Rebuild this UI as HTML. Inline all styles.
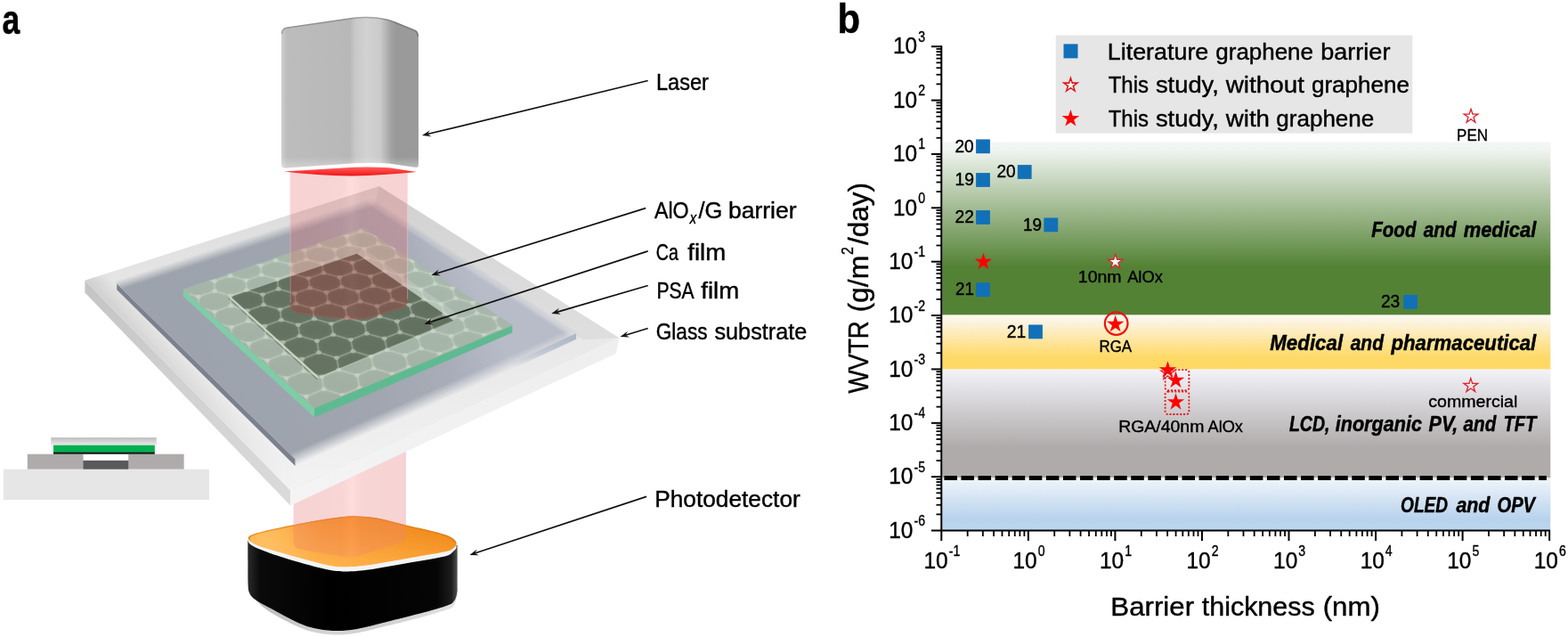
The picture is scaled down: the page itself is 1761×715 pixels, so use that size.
<!DOCTYPE html>
<html lang="en"><head><meta charset="utf-8"><title>Figure</title>
<style>
html,body{margin:0;padding:0;background:#fff;}
body{width:1761px;height:715px;overflow:hidden;}
svg{display:block;font-family:'Liberation Sans', 'DejaVu Sans', sans-serif;}
text{fill:#000;stroke:#000;stroke-width:0.4px;stroke-linejoin:round;}
text[font-weight=bold]{stroke-width:0.45px;}
</style></head><body>
<svg width="1761" height="715" viewBox="0 0 1761 715">
<defs>
<linearGradient id="laserG" gradientUnits="userSpaceOnUse" x1="316" y1="0" x2="470" y2="0">
<stop offset="0" stop-color="#cfcfcf"/><stop offset="0.04" stop-color="#bcbcbc"/><stop offset="0.5" stop-color="#b8b8b8"/>
<stop offset="0.54" stop-color="#c8c8c8"/><stop offset="0.62" stop-color="#d2d2d2"/><stop offset="0.72" stop-color="#cbcbcb"/>
<stop offset="0.80" stop-color="#a2a2a2"/><stop offset="0.84" stop-color="#999999"/><stop offset="1" stop-color="#9a9a9a"/></linearGradient>
<linearGradient id="beamG" gradientUnits="userSpaceOnUse" x1="326" y1="0" x2="458" y2="0">
<stop offset="0" stop-color="#e15a5a" stop-opacity="0.27"/><stop offset="0.44" stop-color="#e15a5a" stop-opacity="0.25"/>
<stop offset="0.52" stop-color="#ff7070" stop-opacity="0.24"/><stop offset="0.60" stop-color="#e15a5a" stop-opacity="0.25"/>
<stop offset="1" stop-color="#e15a5a" stop-opacity="0.27"/></linearGradient>
<linearGradient id="orangeG" gradientUnits="userSpaceOnUse" x1="405" y1="578" x2="392" y2="640">
<stop offset="0" stop-color="#f08c1e"/><stop offset="0.4" stop-color="#f89c30"/><stop offset="1" stop-color="#ffb44e"/></linearGradient>
<linearGradient id="blackG" gradientUnits="userSpaceOnUse" x1="278" y1="0" x2="514" y2="0">
<stop offset="0" stop-color="#2a2a2a"/><stop offset="0.06" stop-color="#0a0a0a"/><stop offset="0.4" stop-color="#000"/>
<stop offset="0.9" stop-color="#050505"/><stop offset="0.97" stop-color="#1c1c1c"/><stop offset="1" stop-color="#555"/></linearGradient>
<linearGradient id="coverG" x1="0" y1="0" x2="0" y2="1">
<stop offset="0" stop-color="#bdbdbd"/><stop offset="1" stop-color="#ebebeb"/></linearGradient>

<linearGradient id="silverG" gradientUnits="userSpaceOnUse" x1="278" y1="0" x2="514" y2="0"><stop offset="0" stop-color="#b8b8b8"/><stop offset="0.4" stop-color="#d6d6d6"/><stop offset="0.6" stop-color="#cfcfcf"/><stop offset="1" stop-color="#e2e2e2"/></linearGradient>
<radialGradient id="orangeHi" gradientUnits="userSpaceOnUse" cx="300" cy="607" r="60"><stop offset="0" stop-color="#ffc266" stop-opacity="0.9"/><stop offset="1" stop-color="#ffc266" stop-opacity="0"/></radialGradient>
<clipPath id="clipOrange"><path d="M279.6 606C277.93 603.88 278.55 602.48 282.5 600.6C286.45 598.72 292.6 597.13 303.3 594.7C314 592.27 333.68 588.35 346.7 586C359.72 583.65 372.37 581.7 381.4 580.6C390.43 579.5 393.68 579.22 400.9 579.4C408.12 579.58 415.68 580.05 424.7 581.7C433.72 583.35 444.52 586.78 455 589.3C465.48 591.82 479.18 594.58 487.6 596.8C496.02 599.02 501.33 600.48 505.5 602.6C509.67 604.72 512.02 607.35 512.6 609.5C513.18 611.65 511.37 613.82 509 615.5C506.63 617.18 507.4 617.65 498.4 619.6C489.4 621.55 469.45 624.7 455 627.2C440.55 629.7 422.53 633.1 411.7 634.6C400.87 636.1 397.22 636.23 390 636.2C382.78 636.17 379.23 636.62 368.4 634.4C357.57 632.18 337.65 626.42 325 622.9C312.35 619.38 300.07 616.12 292.5 613.3C284.93 610.48 281.27 608.12 279.6 606Z"/></clipPath>
<clipPath id="clipBeamLo"><path d="M329.6 480 L329.6 608 Q329.8 615 337 616.6 L384 624.6 Q394 626 404 623.4 L449 609.8 Q456 607.6 456 601 L456 480 Z"/></clipPath>
<linearGradient id="gSideL" gradientUnits="userSpaceOnUse" x1="95.4" y1="314.7" x2="326.2" y2="550.2"><stop offset="0" stop-color="#c4c4c4"/><stop offset="0.5" stop-color="#d1d1d1"/><stop offset="1" stop-color="#dadada"/></linearGradient>
<linearGradient id="gSideR" gradientUnits="userSpaceOnUse" x1="326.2" y1="550.2" x2="695.4" y2="379.3"><stop offset="0" stop-color="#f4f4f4"/><stop offset="1" stop-color="#eeeeee"/></linearGradient>
<linearGradient id="glassTop" gradientUnits="userSpaceOnUse" x1="0" y1="209" x2="0" y2="550.2"><stop offset="0" stop-color="#dadada"/><stop offset="0.3" stop-color="#e5e5e5"/><stop offset="0.7" stop-color="#ececec"/><stop offset="1" stop-color="#f3f3f3"/></linearGradient>
<filter id="blur5" x="-20%" y="-20%" width="140%" height="140%"><feGaussianBlur stdDeviation="4.5"/></filter>
<filter id="blur2" x="-20%" y="-20%" width="140%" height="140%"><feGaussianBlur stdDeviation="1.6"/></filter>
<filter id="blur1" x="-20%" y="-20%" width="140%" height="140%"><feGaussianBlur stdDeviation="0.7"/></filter>
<clipPath id="clipGlass"><polygon points="95.4,314.7 425.8,209 695.4,379.3 326.2,550.2"/></clipPath>
<linearGradient id="edgeShade" gradientUnits="userSpaceOnUse" x1="95.4" y1="314.7" x2="111.11" y2="299.3"><stop offset="0" stop-color="#000" stop-opacity="0.1"/><stop offset="1" stop-color="#000" stop-opacity="0"/></linearGradient>
<linearGradient id="edgeFade" gradientUnits="userSpaceOnUse" x1="95.4" y1="314.7" x2="326.2" y2="550.2"><stop offset="0" stop-color="#fff"/><stop offset="0.55" stop-color="#aaa"/><stop offset="1" stop-color="#000"/></linearGradient>
<mask id="mEdgeFade" maskUnits="userSpaceOnUse" x="0" y="0" width="940" height="715"><rect width="940" height="715" fill="url(#edgeFade)"/></mask>
<linearGradient id="psaG" gradientUnits="userSpaceOnUse" x1="231.35" y1="416.9" x2="531.4" y2="300.2"><stop offset="0" stop-color="#9da3ac"/><stop offset="0.5" stop-color="#a0a5af"/><stop offset="0.8" stop-color="#a8adb9"/><stop offset="1" stop-color="#b8bcc8"/></linearGradient>
<linearGradient id="mPsaLTg" gradientUnits="userSpaceOnUse" x1="272.91" y1="268.57" x2="276.33" y2="279.03"><stop offset="0" stop-color="#000"/><stop offset="0.5" stop-color="#808080"/><stop offset="1" stop-color="#fff"/></linearGradient>
<mask id="mPsaLT" maskUnits="userSpaceOnUse" x="0" y="0" width="940" height="715"><rect x="0" y="0" width="940" height="715" fill="url(#mPsaLTg)"/></mask>
<linearGradient id="mPsaTRg" gradientUnits="userSpaceOnUse" x1="533.32" y1="297.27" x2="527.84" y2="305.64"><stop offset="0" stop-color="#000"/><stop offset="0.5" stop-color="#808080"/><stop offset="1" stop-color="#fff"/></linearGradient>
<mask id="mPsaTR" maskUnits="userSpaceOnUse" x="0" y="0" width="940" height="715"><rect x="0" y="0" width="940" height="715" fill="url(#mPsaTRg)"/></mask>
<linearGradient id="mPsaBRg" gradientUnits="userSpaceOnUse" x1="491.6" y1="451.6" x2="485.5" y2="437.89"><stop offset="0" stop-color="#000"/><stop offset="0.5" stop-color="#808080"/><stop offset="1" stop-color="#fff"/></linearGradient>
<mask id="mPsaBR" maskUnits="userSpaceOnUse" x="0" y="0" width="940" height="715"><rect x="0" y="0" width="940" height="715" fill="url(#mPsaBRg)"/></mask>
<linearGradient id="psaRface" gradientUnits="userSpaceOnUse" x1="646" y1="375.2" x2="488.75" y2="445.2"><stop offset="0" stop-color="#a9b2c4" stop-opacity="0.9"/><stop offset="0.25" stop-color="#a9b2c4" stop-opacity="0.5"/><stop offset="0.45" stop-color="#a9b2c4" stop-opacity="0"/></linearGradient>
<linearGradient id="grnG" gradientUnits="userSpaceOnUse" x1="408" y1="255.6" x2="353.1" y2="457.2"><stop offset="0" stop-color="#a8b9ac"/><stop offset="0.5" stop-color="#a5b5a8"/><stop offset="1" stop-color="#a1aea2"/></linearGradient>
<clipPath id="clipGrn"><polygon points="205.9,324.6 408,255.6 575.4,364.4 353.1,457.2"/></clipPath>
<clipPath id="clipCa"><polygon points="258.2,333.6 400.9,284.8 510,360.2 357.6,423.4"/></clipPath>
<linearGradient id="caG" gradientUnits="userSpaceOnUse" x1="400.9" y1="284.8" x2="357.6" y2="423.4"><stop offset="0" stop-color="#5f6f5e"/><stop offset="1" stop-color="#667362"/></linearGradient>
<clipPath id="clipBeamUp"><path d="M325.6 193 L325.6 340 Q325.8 349 335.4 350.8 L375 356 Q395 358.6 415 356.2 L451 344.6 Q458.1 342 458.1 335 L458.1 193 Z"/></clipPath>
<linearGradient id="redG" gradientUnits="userSpaceOnUse" x1="0" y1="187.5" x2="0" y2="197.6"><stop offset="0" stop-color="#ff6060"/><stop offset="0.45" stop-color="#fb3c3c"/><stop offset="1" stop-color="#ec1414"/></linearGradient>
<linearGradient id="laserBot" gradientUnits="userSpaceOnUse" x1="0" y1="176" x2="0" y2="189"><stop offset="0" stop-color="#fff" stop-opacity="0"/><stop offset="1" stop-color="#fff" stop-opacity="0.35"/></linearGradient>
<linearGradient id="laserTop" gradientUnits="userSpaceOnUse" x1="0" y1="18" x2="0" y2="40"><stop offset="0" stop-color="#000" stop-opacity="0.14"/><stop offset="0.35" stop-color="#000" stop-opacity="0.03"/><stop offset="1" stop-color="#000" stop-opacity="0"/></linearGradient>
<clipPath id="clipLaser"><path d="M316 37 Q316 31.8 322 30.6 L398 19.6 Q410 18 424 19.6 Q436 21.2 444 24.6 L466 33.4 Q470 35.2 470 40 L470 185 L316 185Z"/></clipPath>
<linearGradient id="gGreen" x1="0" y1="0" x2="0" y2="1">
<stop offset="0" stop-color="#f2f6f6"/><stop offset="0.04" stop-color="#f1f5f1"/><stop offset="0.72" stop-color="#548235"/><stop offset="1" stop-color="#548235"/></linearGradient>
<linearGradient id="gYellow" x1="0" y1="0" x2="0" y2="1">
<stop offset="0" stop-color="#fbf8f1"/><stop offset="0.12" stop-color="#fcf4e2"/><stop offset="0.78" stop-color="#ffd966"/><stop offset="1" stop-color="#ffd966"/></linearGradient>
<linearGradient id="gGrey" x1="0" y1="0" x2="0" y2="1">
<stop offset="0" stop-color="#f3f3f8"/><stop offset="0.72" stop-color="#afabab"/><stop offset="1" stop-color="#afabab"/></linearGradient>
<linearGradient id="gBlue" x1="0" y1="0" x2="0" y2="1">
<stop offset="0" stop-color="#f0f5fb"/><stop offset="0.8" stop-color="#b7d2ec"/><stop offset="1" stop-color="#bdd7ee"/></linearGradient>
</defs>
<rect width="1761" height="715" fill="#fff"/>
<g id="panel-a">
<text x="2.42" y="37.5" font-size="45.5" font-weight="bold" font-style="normal" textLength="19.74" lengthAdjust="spacingAndGlyphs" >a</text>
<g id="photodetector">
<path d="M278.4 607C278.42 610.83 278.47 622 278.5 630C278.53 638 278.35 649.17 278.6 655C278.85 660.83 278.77 662.08 280 665C281.23 667.92 282.12 668.82 286 672.5C289.88 676.18 294.98 681.83 303.3 687.1C311.62 692.37 326.87 700.18 335.9 704.1C344.93 708.02 350.28 709.18 357.5 710.6C364.72 712.02 371.97 712.6 379.2 712.6C386.43 712.6 391.87 712.23 400.9 710.6C409.93 708.97 420.77 705.92 433.4 702.8C446.03 699.68 465.15 695.02 476.7 691.9C488.25 688.78 497.07 686.32 502.7 684.1C508.33 681.88 508.72 681.78 510.5 678.6C512.28 675.42 512.88 668.93 513.4 665C513.92 661.07 513.57 660.83 513.6 655C513.63 649.17 513.6 637.17 513.6 630C513.6 622.83 513.6 615 513.6 612Z" fill="url(#silverG)"/>
<path d="M278.4 607C278.42 610.83 278.47 622 278.5 630C278.53 638 278.35 649.17 278.6 655C278.85 660.83 278.77 662.08 280 665C281.23 667.92 282.12 669.58 286 672.5C289.88 675.42 294.98 678 303.3 682.5C311.62 687 326.87 695.58 335.9 699.5C344.93 703.42 350.28 704.58 357.5 706C364.72 707.42 371.97 708 379.2 708C386.43 708 391.87 707.63 400.9 706C409.93 704.37 420.77 701.32 433.4 698.2C446.03 695.08 465.15 690.42 476.7 687.3C488.25 684.18 497.07 681.72 502.7 679.5C508.33 677.28 508.72 676.42 510.5 674C512.28 671.58 512.88 668.17 513.4 665C513.92 661.83 513.57 660.83 513.6 655C513.63 649.17 513.6 637.17 513.6 630C513.6 622.83 513.6 615 513.6 612Z" fill="url(#blackG)"/>
<path d="M279.6 609.5C277.93 607.38 278.55 605.7 282.5 604.1C286.45 602.5 292.6 602.05 303.3 599.9C314 597.75 333.68 593.55 346.7 591.2C359.72 588.85 372.37 586.9 381.4 585.8C390.43 584.7 393.68 584.42 400.9 584.6C408.12 584.78 415.68 585.25 424.7 586.9C433.72 588.55 444.52 591.98 455 594.5C465.48 597.02 479.18 600.07 487.6 602C496.02 603.93 501.33 604.27 505.5 606.1C509.67 607.93 512.02 610.85 512.6 613C513.18 615.15 511.37 617.03 509 619C506.63 620.97 507.4 622.57 498.4 624.8C489.4 627.03 469.45 629.9 455 632.4C440.55 634.9 422.53 638.3 411.7 639.8C400.87 641.3 397.22 641.43 390 641.4C382.78 641.37 379.23 641.82 368.4 639.6C357.57 637.38 337.65 631.9 325 628.1C312.35 624.3 300.07 619.9 292.5 616.8C284.93 613.7 281.27 611.62 279.6 609.5Z" fill="#f4f4f4"/>
<path d="M279.6 606C277.93 603.88 278.55 602.48 282.5 600.6C286.45 598.72 292.6 597.13 303.3 594.7C314 592.27 333.68 588.35 346.7 586C359.72 583.65 372.37 581.7 381.4 580.6C390.43 579.5 393.68 579.22 400.9 579.4C408.12 579.58 415.68 580.05 424.7 581.7C433.72 583.35 444.52 586.78 455 589.3C465.48 591.82 479.18 594.58 487.6 596.8C496.02 599.02 501.33 600.48 505.5 602.6C509.67 604.72 512.02 607.35 512.6 609.5C513.18 611.65 511.37 613.82 509 615.5C506.63 617.18 507.4 617.65 498.4 619.6C489.4 621.55 469.45 624.7 455 627.2C440.55 629.7 422.53 633.1 411.7 634.6C400.87 636.1 397.22 636.23 390 636.2C382.78 636.17 379.23 636.62 368.4 634.4C357.57 632.18 337.65 626.42 325 622.9C312.35 619.38 300.07 616.12 292.5 613.3C284.93 610.48 281.27 608.12 279.6 606Z" fill="url(#orangeG)"/>
<g clip-path="url(#clipOrange)"><rect x="270" y="570" width="250" height="80" fill="url(#orangeHi)"/></g>
<g clip-path="url(#clipOrange)"><path d="M279.6 606C280.08 605.1 278.55 602.48 282.5 600.6C286.45 598.72 292.6 597.13 303.3 594.7C314 592.27 333.68 588.35 346.7 586C359.72 583.65 372.37 581.7 381.4 580.6C390.43 579.5 393.68 579.22 400.9 579.4C408.12 579.58 415.68 580.05 424.7 581.7C433.72 583.35 444.52 586.78 455 589.3C465.48 591.82 479.18 594.58 487.6 596.8C496.02 599.02 501.33 600.48 505.5 602.6C509.67 604.72 511.42 608.35 512.6 609.5" fill="none" stroke="#d96a08" stroke-opacity="0.55" stroke-width="2.4" filter="url(#blur1)"/></g>
</g>
<path d="M329.6 480 L329.6 608 Q329.8 615 337 616.6 L384 624.6 Q394 626 404 623.4 L449 609.8 Q456 607.6 456 601 L456 480 Z" fill="url(#beamG)"/>
<g clip-path="url(#clipBeamLo)"><path d="M279.6 606C277.93 603.88 278.55 602.48 282.5 600.6C286.45 598.72 292.6 597.13 303.3 594.7C314 592.27 333.68 588.35 346.7 586C359.72 583.65 372.37 581.7 381.4 580.6C390.43 579.5 393.68 579.22 400.9 579.4C408.12 579.58 415.68 580.05 424.7 581.7C433.72 583.35 444.52 586.78 455 589.3C465.48 591.82 479.18 594.58 487.6 596.8C496.02 599.02 501.33 600.48 505.5 602.6C509.67 604.72 512.02 607.35 512.6 609.5C513.18 611.65 511.37 613.82 509 615.5C506.63 617.18 507.4 617.65 498.4 619.6C489.4 621.55 469.45 624.7 455 627.2C440.55 629.7 422.53 633.1 411.7 634.6C400.87 636.1 397.22 636.23 390 636.2C382.78 636.17 379.23 636.62 368.4 634.4C357.57 632.18 337.65 626.42 325 622.9C312.35 619.38 300.07 616.12 292.5 613.3C284.93 610.48 281.27 608.12 279.6 606Z" fill="#ffb866" fill-opacity="0.22"/></g>
<polygon points="95.4,314.7 326.2,550.2 326.2,567.4 95.4,328.5" fill="url(#gSideL)"/>
<polygon points="326.2,550.2 695.4,379.3 691.9,396.8 326.2,567.4" fill="url(#gSideR)"/>
<polygon points="95.4,314.7 425.8,209 695.4,379.3 326.2,550.2" fill="url(#glassTop)"/>
<polygon points="425.8,209 695.4,379.3 655.4,381.3 419.8,231" fill="#000" fill-opacity="0.045"/>
<g clip-path="url(#clipGlass)" mask="url(#mEdgeFade)"><polygon points="95.4,314.7 326.2,550.2 343.34,533.4 112.54,297.9" fill="url(#edgeShade)"/></g>
<polygon points="131.2,318.6 331.5,515.2 331.5,522.9 131.2,325.2" fill="#7d818d"/>
<g clip-path="url(#clipGlass)"><g mask="url(#mPsaLT)"><g mask="url(#mPsaTR)"><g mask="url(#mPsaBR)"><polygon points="131.2,318.6 101.2,288.6 416.8,185.2 686,365.2 676,415.2 331.5,555.2 331.5,515.2" fill="url(#psaG)"/></g></g></g></g>
<polygon points="647,374.2 647,380.7 488.75,454.2 488.75,447.2" fill="url(#psaRface)"/>
<polygon points="205.9,324.6 353.1,457.2 353.1,468.5 205.6,332.6" fill="#7fcca8"/>
<polygon points="353.1,457.2 575.4,364.4 575.4,373.4 353.1,468.5" fill="#5fba91"/>
<polygon points="205.9,324.6 408,255.6 575.4,364.4 575.4,365.4 353.1,458.2 205.9,325.6" fill="url(#grnG)" filter="url(#blur1)"/>
<polygon points="258.2,333.6 400.9,284.8 510,360.2 357.6,423.4" fill="url(#caG)"/>
<path d="M256.6 334.8 L356.4 425.8" stroke="#4f5f4e" stroke-opacity="0.5" stroke-width="1.2" fill="none"/>
<path d="M258.2 333.6 L357.6 424" stroke="#cdd9c7" stroke-opacity="0.9" stroke-width="2.0" fill="none"/>
<path d="M357.6 424 L510 360.2" stroke="#b4c2b0" stroke-opacity="0.55" stroke-width="1.8" fill="none"/>
<polygon points="400.9,284.8 510,360.2 514.5,352.7 407.4,278.3" fill="#e8efe6" opacity="0.22"/>
<g clip-path="url(#clipGrn)">
<path d="M61.63 321.4L59.43 332.65M59.43 332.65L76.44 337.8M59.43 332.65L39.43 339.02M76.44 337.8L74.41 349.5M74.41 349.5L91.85 354.86M74.41 349.5L54.12 356.14M91.85 354.86L89.99 367.04M89.99 367.04L107.88 372.62M89.99 367.04L69.43 373.97M107.88 372.62L106.23 385.32M106.23 385.32L124.6 391.12M106.23 385.32L85.37 392.55M124.6 391.12L123.16 404.37M123.16 404.37L142.02 410.42M123.16 404.37L102 411.92M142.02 410.42L140.82 424.24M140.82 424.24L160.21 430.56M140.82 424.24L119.36 432.14M160.21 430.56L159.27 445.01M159.27 445.01L179.22 451.6M159.27 445.01L137.49 453.27M179.22 451.6L178.55 466.71M178.55 466.71L199.09 473.6M178.55 466.71L156.46 475.37M199.09 473.6L198.74 489.42M198.74 489.42L219.89 496.63M198.74 489.42L176.32 498.51M219.89 496.63L219.88 513.22M219.88 513.22L241.69 520.77M219.88 513.22L197.13 522.76M241.69 520.77L242.05 538.18M242.05 538.18L264.57 546.09M242.05 538.18L218.97 548.2M264.57 546.09L265.34 564.38M265.34 564.38L288.59 572.69M265.34 564.38L241.92 574.93M288.59 572.69L289.81 591.93M289.81 591.93L313.85 600.66M289.81 591.93L266.05 603.05M313.85 600.66L315.58 620.92M315.58 620.92L340.46 630.12M315.58 620.92L291.46 632.66M82.89 304.53L81.03 315.31M81.03 315.31L97.79 320.25M81.03 315.31L61.63 321.4M97.79 320.25L96.1 331.45M96.1 331.45L113.28 336.59M96.1 331.45L76.44 337.8M113.28 336.59L111.77 348.24M111.77 348.24L129.39 353.58M111.77 348.24L91.85 354.86M129.39 353.58L128.08 365.72M128.08 365.72L146.16 371.27M128.08 365.72L107.88 372.62M146.16 371.27L145.07 383.92M145.07 383.92L163.63 389.7M145.07 383.92L124.6 391.12M163.63 389.7L162.78 402.89M162.78 402.89L181.85 408.92M162.78 402.89L142.02 410.42M181.85 408.92L181.26 422.69M181.26 422.69L200.86 428.98M181.26 422.69L160.21 430.56M200.86 428.98L200.56 443.36M200.56 443.36L220.73 449.93M200.56 443.36L179.22 451.6M220.73 449.93L220.73 464.97M220.73 464.97L241.49 471.83M220.73 464.97L199.09 473.6M241.49 471.83L241.83 487.59M241.83 487.59L263.23 494.76M241.83 487.59L219.89 496.63M263.23 494.76L263.94 511.27M263.94 511.27L286.01 518.79M263.94 511.27L241.69 520.77M286.01 518.79L287.13 536.11M287.13 536.11L309.9 543.99M287.13 536.11L264.57 546.09M309.9 543.99L311.46 562.19M311.46 562.19L334.99 570.46M311.46 562.19L288.59 572.69M334.99 570.46L337.05 589.6M337.05 589.6L361.38 598.29M337.05 589.6L313.85 600.66M118.25 303.44L116.87 314.17M116.87 314.17L133.8 319.1M116.87 314.17L97.79 320.25M133.8 319.1L132.6 330.26M132.6 330.26L149.96 335.38M132.6 330.26L113.28 336.59M149.96 335.38L148.97 346.99M148.97 346.99L166.76 352.31M148.97 346.99L129.39 353.58M166.76 352.31L165.99 364.4M165.99 364.4L184.26 369.93M165.99 364.4L146.16 371.27M184.26 369.93L183.73 382.53M183.73 382.53L202.48 388.29M183.73 382.53L163.63 389.7M202.48 388.29L202.21 401.43M202.21 401.43L221.48 407.43M202.21 401.43L181.85 408.92M221.48 407.43L221.5 421.14M221.5 421.14L241.31 427.4M221.5 421.14L200.86 428.98M241.31 427.4L241.63 441.73M241.63 441.73L262.02 448.27M241.63 441.73L220.73 449.93M262.02 448.27L262.68 463.25M262.68 463.25L283.67 470.08M262.68 463.25L241.49 471.83M283.67 470.08L284.7 485.76M284.7 485.76L306.33 492.9M284.7 485.76L263.23 494.76M306.33 492.9L307.76 509.34M307.76 509.34L330.08 516.82M307.76 509.34L286.01 518.79M330.08 516.82L331.94 534.06M331.94 534.06L354.98 541.9M331.94 534.06L309.9 543.99M354.98 541.9L357.33 560.01M357.33 560.01L381.13 568.24M357.33 560.01L334.99 570.46M381.13 568.24L384 587.28M384 587.28L408.62 595.93M384 587.28L361.38 598.29M137.86 287.32L136.76 297.62M136.76 297.62L153.45 302.35M136.76 297.62L118.25 303.44M153.45 302.35L152.55 313.05M152.55 313.05L169.64 317.96M152.55 313.05L133.8 319.1M169.64 317.96L168.94 329.08M168.94 329.08L186.47 334.18M168.94 329.08L149.96 335.38M186.47 334.18L185.99 345.75M185.99 345.75L203.96 351.05M185.99 345.75L166.76 352.31M203.96 351.05L203.73 363.09M203.73 363.09L222.18 368.6M203.73 363.09L184.26 369.93M222.18 368.6L222.2 381.15M222.2 381.15L241.15 386.89M222.2 381.15L202.48 388.29M241.15 386.89L241.45 399.97M241.45 399.97L260.92 405.95M241.45 399.97L221.48 407.43M260.92 405.95L261.53 419.61M261.53 419.61L281.55 425.84M261.53 419.61L241.31 427.4M281.55 425.84L282.5 440.11M282.5 440.11L303.1 446.61M282.5 440.11L262.02 448.27M303.1 446.61L304.41 461.53M304.41 461.53L325.63 468.33M304.41 461.53L283.67 470.08M325.63 468.33L327.34 483.94M327.34 483.94L349.21 491.05M327.34 483.94L306.33 492.9M349.21 491.05L351.34 507.41M351.34 507.41L373.9 514.86M351.34 507.41L330.08 516.82M373.9 514.86L376.51 532.02M376.51 532.02L399.8 539.83M376.51 532.02L354.98 541.9M399.8 539.83L402.93 557.85M402.93 557.85L426.99 566.04M402.93 557.85L381.13 568.24M172.29 286.29L171.66 296.55M171.66 296.55L188.5 301.27M171.66 296.55L153.45 302.35M188.5 301.27L188.07 311.93M188.07 311.93L205.33 316.82M188.07 311.93L169.64 317.96M205.33 316.82L205.12 327.9M205.12 327.9L222.81 332.98M205.12 327.9L186.47 334.18M222.81 332.98L222.84 344.51M222.84 344.51L240.99 349.79M222.84 344.51L203.96 351.05M240.99 349.79L241.28 361.78M241.28 361.78L259.91 367.27M241.28 361.78L222.18 368.6M259.91 367.27L260.48 379.77M260.48 379.77L279.62 385.49M260.48 379.77L241.15 386.89M279.62 385.49L280.5 398.52M280.5 398.52L300.16 404.47M280.5 398.52L260.92 405.95M300.16 404.47L301.37 418.07M301.37 418.07L321.6 424.28M301.37 418.07L281.55 425.84M321.6 424.28L323.16 438.49M323.16 438.49L343.98 444.97M323.16 438.49L303.1 446.61M343.98 444.97L345.93 459.82M345.93 459.82L367.37 466.59M345.93 459.82L325.63 468.33M367.37 466.59L369.75 482.14M369.75 482.14L391.85 489.22M369.75 482.14L349.21 491.05M391.85 489.22L394.69 505.5M394.69 505.5L417.49 512.91M394.69 505.5L373.9 514.86M417.49 512.91L420.83 529.99M420.83 529.99L444.37 537.76M420.83 529.99L399.8 539.83M444.37 537.76L448.26 555.69M448.26 555.69L472.6 563.84M448.26 555.69L426.99 566.04M190.38 270.88L189.98 280.73M189.98 280.73L206.58 285.26M189.98 280.73L172.29 286.29M206.58 285.26L206.4 295.49M206.4 295.49L223.4 300.19M206.4 295.49L188.5 301.27M223.4 300.19L223.43 310.81M223.43 310.81L240.85 315.69M223.43 310.81L205.33 316.82M240.85 315.69L241.13 326.73M241.13 326.73L258.99 331.79M241.13 326.73L222.81 332.98M258.99 331.79L259.53 343.27M259.53 343.27L277.85 348.53M259.53 343.27L240.99 349.79M277.85 348.53L278.66 360.48M278.66 360.48L297.48 365.95M278.66 360.48L259.91 367.27M297.48 365.95L298.59 378.4M298.59 378.4L317.91 384.1M298.59 378.4L279.62 385.49M317.91 384.1L319.35 397.08M319.35 397.08L339.22 403.01M319.35 397.08L300.16 404.47M339.22 403.01L341.01 416.55M341.01 416.55L361.44 422.74M341.01 416.55L321.6 424.28M361.44 422.74L363.61 436.88M363.61 436.88L384.64 443.33M363.61 436.88L343.98 444.97M384.64 443.33L387.23 458.12M387.23 458.12L408.89 464.86M387.23 458.12L367.37 466.59M408.89 464.86L411.93 480.34M411.93 480.34L434.27 487.39M411.93 480.34L391.85 489.22M434.27 487.39L437.8 503.6M437.8 503.6L460.84 510.97M437.8 503.6L417.49 512.91M460.84 510.97L464.9 527.97M464.9 527.97L488.7 535.71M464.9 527.97L444.37 537.76M223.94 269.9L223.98 279.72M223.98 279.72L240.72 284.24M223.98 279.72L206.58 285.26M240.72 284.24L240.99 294.43M240.99 294.43L258.14 299.12M240.99 294.43L223.4 300.19M258.14 299.12L258.64 309.7M258.64 309.7L276.22 314.56M258.64 309.7L240.85 315.69M276.22 314.56L276.98 325.56M276.98 325.56L295.01 330.6M276.98 325.56L258.99 331.79M295.01 330.6L296.04 342.04M296.04 342.04L314.54 347.28M296.04 342.04L277.85 348.53M314.54 347.28L315.87 359.19M315.87 359.19L334.86 364.64M315.87 359.19L297.48 365.95M334.86 364.64L336.51 377.04M336.51 377.04L356.02 382.71M336.51 377.04L317.91 384.1M356.02 382.71L358.02 395.64M358.02 395.64L378.08 401.55M358.02 395.64L339.22 403.01M378.08 401.55L380.45 415.04M380.45 415.04L401.08 421.19M380.45 415.04L361.44 422.74M401.08 421.19L403.86 435.28M403.86 435.28L425.1 441.71M403.86 435.28L384.64 443.33M425.1 441.71L428.32 456.43M428.32 456.43L450.2 463.14M428.32 456.43L408.89 464.86M450.2 463.14L453.9 478.55M453.9 478.55L476.46 485.57M453.9 478.55L434.27 487.39M476.46 485.57L480.67 501.7M480.67 501.7L503.95 509.05M480.67 501.7L460.84 510.97M503.95 509.05L508.73 525.97M508.73 525.97L532.77 533.66M508.73 525.97L488.7 535.71M240.61 255.15L240.86 264.59M240.86 264.59L257.36 268.93M240.86 264.59L223.94 269.9M257.36 268.93L257.83 278.72M257.83 278.72L274.72 283.22M257.83 278.72L240.72 284.24M274.72 283.22L275.43 293.38M275.43 293.38L292.74 298.05M275.43 293.38L258.14 299.12M292.74 298.05L293.7 308.59M293.7 308.59L311.44 313.44M293.7 308.59L276.22 314.56M311.44 313.44L312.67 324.4M312.67 324.4L330.87 329.42M312.67 324.4L295.01 330.6M330.87 329.42L332.39 340.82M332.39 340.82L351.06 346.04M332.39 340.82L314.54 347.28M351.06 346.04L352.9 357.9M352.9 357.9L372.07 363.33M352.9 357.9L334.86 364.64M372.07 363.33L374.26 375.68M374.26 375.68L393.95 381.33M374.26 375.68L356.02 382.71M393.95 381.33L396.5 394.21M396.5 394.21L416.75 400.09M396.5 394.21L378.08 401.55M416.75 400.09L419.7 413.53M419.7 413.53L440.53 419.66M419.7 413.53L401.08 421.19M440.53 419.66L443.91 433.69M443.91 433.69L465.35 440.09M443.91 433.69L425.1 441.71M465.35 440.09L469.19 454.75M469.19 454.75L491.29 461.43M469.19 454.75L450.2 463.14M491.29 461.43L495.64 476.77M495.64 476.77L518.42 483.76M495.64 476.77L476.46 485.57M518.42 483.76L523.32 499.82M523.32 499.82L546.83 507.13M523.32 499.82L503.95 509.05M273.33 254.23L274 263.64M274 263.64L290.64 267.97M274 263.64L257.36 268.93M290.64 267.97L291.54 277.72M291.54 277.72L308.58 282.21M291.54 277.72L274.72 283.22M308.58 282.21L309.73 292.33M309.73 292.33L327.19 296.98M309.73 292.33L292.74 298.05M327.19 296.98L328.6 307.49M328.6 307.49L346.5 312.32M328.6 307.49L311.44 313.44M346.5 312.32L348.21 323.24M348.21 323.24L366.56 328.25M348.21 323.24L330.87 329.42M366.56 328.25L368.58 339.6M368.58 339.6L387.42 344.8M368.58 339.6L351.06 346.04M387.42 344.8L389.77 356.62M389.77 356.62L409.11 362.03M389.77 356.62L372.07 363.33M409.11 362.03L411.82 374.33M411.82 374.33L431.7 379.96M411.82 374.33L393.95 381.33M431.7 379.96L434.8 392.79M434.8 392.79L455.23 398.65M434.8 392.79L416.75 400.09M455.23 398.65L458.75 412.03M458.75 412.03L479.78 418.14M458.75 412.03L440.53 419.66M479.78 418.14L483.75 432.1M483.75 432.1L505.4 438.48M483.75 432.1L465.35 440.09M505.4 438.48L509.86 453.07M509.86 453.07L532.17 459.73M509.86 453.07L491.29 461.43M532.17 459.73L537.16 475M537.16 475L560.16 481.96M537.16 475L518.42 483.76M560.16 481.96L565.73 497.95M565.73 497.95L589.47 505.23M565.73 497.95L546.83 507.13M288.69 240.09L289.53 249.14M289.53 249.14L305.93 253.31M289.53 249.14L273.33 254.23M305.93 253.31L307 262.69M307 262.69L323.78 267.01M307 262.69L290.64 267.97M323.78 267.01L325.1 276.73M325.1 276.73L342.29 281.2M325.1 276.73L308.58 282.21M342.29 281.2L343.87 291.29M343.87 291.29L361.48 295.92M343.87 291.29L327.19 296.98M361.48 295.92L363.35 306.4M363.35 306.4L381.41 311.2M363.35 306.4L346.5 312.32M381.41 311.2L383.58 322.08M383.58 322.08L402.1 327.08M383.58 322.08L366.56 328.25M402.1 327.08L404.6 338.39M404.6 338.39L423.61 343.57M404.6 338.39L387.42 344.8M423.61 343.57L426.46 355.34M426.46 355.34L445.98 360.73M426.46 355.34L409.11 362.03M445.98 360.73L449.21 372.99M449.21 372.99L469.27 378.6M449.21 372.99L431.7 379.96M469.27 378.6L472.91 391.37M472.91 391.37L493.53 397.21M472.91 391.37L455.23 398.65M493.53 397.21L497.62 410.53M497.62 410.53L518.84 416.62M497.62 410.53L479.78 418.14M518.84 416.62L523.39 430.53M523.39 430.53L545.25 436.87M523.39 430.53L505.4 438.48M545.25 436.87L550.32 451.41M550.32 451.41L572.84 458.04M550.32 451.41L532.17 459.73M572.84 458.04L578.46 473.24M578.46 473.24L601.69 480.17M578.46 473.24L560.16 481.96M320.63 239.22L321.86 248.24M321.86 248.24L338.39 252.4M321.86 248.24L305.93 253.31M338.39 252.4L339.87 261.74M339.87 261.74L356.79 266.05M339.87 261.74L323.78 267.01M356.79 266.05L358.53 275.74M358.53 275.74L375.86 280.19M358.53 275.74L342.29 281.2M375.86 280.19L377.88 290.25M377.88 290.25L395.64 294.87M377.88 290.25L361.48 295.92M395.64 294.87L397.95 305.3M397.95 305.3L416.16 310.1M397.95 305.3L381.41 311.2M416.16 310.1L418.8 320.94M418.8 320.94L437.48 325.91M418.8 320.94L402.1 327.08M437.48 325.91L440.46 337.18M440.46 337.18L459.63 342.35M440.46 337.18L423.61 343.57M459.63 342.35L462.98 354.07M462.98 354.07L482.67 359.44M462.98 354.07L445.98 360.73M482.67 359.44L486.42 371.65M486.42 371.65L506.66 377.24M486.42 371.65L469.27 378.6M506.66 377.24L510.84 389.96M510.84 389.96L531.65 395.78M510.84 389.96L493.53 397.21M531.65 395.78L536.29 409.05M536.29 409.05L557.7 415.11M536.29 409.05L518.84 416.62M557.7 415.11L562.84 428.96M562.84 428.96L584.89 435.28M562.84 428.96L545.25 436.87M584.89 435.28L590.57 449.75M590.57 449.75L613.29 456.35M590.57 449.75L572.84 458.04M613.29 456.35L619.55 471.49M619.55 471.49L642.99 478.38M619.55 471.49L601.69 480.17M334.78 225.66L336.15 234.35M336.15 234.35L352.44 238.35M336.15 234.35L320.63 239.22M352.44 238.35L354.06 247.34M354.06 247.34L370.72 251.49M354.06 247.34L338.39 252.4M370.72 251.49L372.6 260.8M372.6 260.8L389.66 265.09M372.6 260.8L356.79 266.05M389.66 265.09L391.81 274.75M391.81 274.75L409.29 279.19M391.81 274.75L375.86 280.19M409.29 279.19L411.73 289.21M411.73 289.21L429.64 293.82M411.73 289.21L395.64 294.87M429.64 293.82L432.4 304.22M432.4 304.22L450.76 308.99M432.4 304.22L416.16 310.1M450.76 308.99L453.86 319.79M453.86 319.79L472.7 324.75M453.86 319.79L437.48 325.91M472.7 324.75L476.16 335.98M476.16 335.98L495.49 341.13M476.16 335.98L459.63 342.35M495.49 341.13L499.34 352.81M499.34 352.81L519.2 358.16M499.34 352.81L482.67 359.44M519.2 358.16L523.46 370.32M523.46 370.32L543.87 375.89M523.46 370.32L506.66 377.24M543.87 375.89L548.59 388.56M548.59 388.56L569.58 394.35M548.59 388.56L531.65 395.78M569.58 394.35L574.77 407.57M574.77 407.57L596.37 413.6M574.77 407.57L557.7 415.11M596.37 413.6L602.09 427.4M602.09 427.4L624.34 433.69M602.09 427.4L584.89 435.28M624.34 433.69L630.61 448.1M630.61 448.1L653.54 454.68M630.61 448.1L613.29 456.35M365.96 224.84L367.71 233.49M367.71 233.49L384.12 237.49M367.71 233.49L352.44 238.35M384.12 237.49L386.13 246.45M386.13 246.45L402.92 250.58M386.13 246.45L370.72 251.49M402.92 250.58L405.2 259.87M405.2 259.87L422.4 264.14M405.2 259.87L389.66 265.09M422.4 264.14L424.96 273.77M424.96 273.77L442.58 278.2M424.96 273.77L409.29 279.19M442.58 278.2L445.45 288.18M445.45 288.18L463.5 292.77M445.45 288.18L429.64 293.82M463.5 292.77L466.7 303.13M466.7 303.13L485.21 307.89M466.7 303.13L450.76 308.99M485.21 307.89L488.77 318.66M488.77 318.66L507.76 323.59M488.77 318.66L472.7 324.75M507.76 323.59L511.69 334.78M511.69 334.78L531.19 339.91M511.69 334.78L495.49 341.13M531.19 339.91L535.53 351.55M535.53 351.55L555.56 356.88M535.53 351.55L519.2 358.16M555.56 356.88L560.33 369M560.33 369L580.91 374.54M560.33 369L543.87 375.89M580.91 374.54L586.15 387.16M586.15 387.16L607.32 392.93M586.15 387.16L569.58 394.35M607.32 392.93L613.07 406.1M613.07 406.1L634.86 412.11M613.07 406.1L596.37 413.6M634.86 412.11L641.14 425.85M641.14 425.85L663.58 432.11M641.14 425.85L624.34 433.69M663.58 432.11L670.45 446.46M670.45 446.46L693.58 453.01M670.45 446.46L653.54 454.68M378.97 211.82L380.85 220.16M380.85 220.16L397.02 224.02M380.85 220.16L365.96 224.84M397.02 224.02L399.14 232.65M399.14 232.65L415.68 236.63M399.14 232.65L384.12 237.49M415.68 236.63L418.07 245.56M418.07 245.56L435 249.68M418.07 245.56L402.92 250.58M435 249.68L437.66 258.94M437.66 258.94L455 263.2M437.66 258.94L422.4 264.14M455 263.2L457.97 272.79M457.97 272.79L475.73 277.21M457.97 272.79L442.58 278.2M475.73 277.21L479.02 287.16M479.02 287.16L497.22 291.73M479.02 287.16L463.5 292.77M497.22 291.73L500.85 302.06M500.85 302.06L519.52 306.8M500.85 302.06L485.21 307.89M519.52 306.8L523.52 317.52M523.52 317.52L542.67 322.44M523.52 317.52L507.76 323.59M542.67 322.44L547.07 333.59M547.07 333.59L566.73 338.7M547.07 333.59L531.19 339.91M566.73 338.7L571.55 350.3M571.55 350.3L591.74 355.61M571.55 350.3L555.56 356.88M591.74 355.61L597.02 367.68M597.02 367.68L617.78 373.2M597.02 367.68L580.91 374.54M617.78 373.2L623.54 385.77M623.54 385.77L644.89 391.52M623.54 385.77L607.32 392.93M644.89 391.52L651.17 404.63M651.17 404.63L673.15 410.62M651.17 404.63L634.86 412.11M673.15 410.62L680 424.3M680 424.3L702.63 430.54M680 424.3L663.58 432.11M409.43 211.04L411.66 219.36M411.66 219.36L427.95 223.2M411.66 219.36L397.02 224.02M427.95 223.2L430.44 231.8M430.44 231.8L447.11 235.77M430.44 231.8L415.68 236.63M447.11 235.77L449.88 244.68M449.88 244.68L466.94 248.78M449.88 244.68L435 249.68M466.94 248.78L470 258.01M470 258.01L487.46 262.26M470 258.01L455 263.2M487.46 262.26L490.84 271.82M490.84 271.82L508.74 276.22M490.84 271.82L475.73 277.21M508.74 276.22L512.45 286.13M512.45 286.13L530.79 290.69M512.45 286.13L497.22 291.73M530.79 290.69L534.86 300.98M534.86 300.98L553.67 305.71M534.86 300.98L519.52 306.8M553.67 305.71L558.12 316.4M558.12 316.4L577.43 321.3M558.12 316.4L542.67 322.44M577.43 321.3L582.29 332.41M582.29 332.41L602.11 337.5M582.29 332.41L566.73 338.7M602.11 337.5L607.41 349.05M607.41 349.05L627.77 354.34M607.41 349.05L591.74 355.61M627.77 354.34L633.54 366.36M633.54 366.36L654.47 371.87M633.54 366.36L617.78 373.2M654.47 371.87L660.75 384.39M660.75 384.39L682.28 390.12M660.75 384.39L644.89 391.52M682.28 390.12L689.1 403.17M689.1 403.17L711.26 409.14M689.1 403.17L673.15 410.62M711.26 409.14L718.66 422.76M718.66 422.76L741.49 428.98M718.66 422.76L702.63 430.54M421.4 198.54L423.72 206.56M423.72 206.56L439.78 210.26M423.72 206.56L409.43 211.04M439.78 210.26L442.36 218.55M442.36 218.55L458.77 222.38M442.36 218.55L427.95 223.2M458.77 222.38L461.63 230.96M461.63 230.96L478.42 234.92M461.63 230.96L447.11 235.77M478.42 234.92L481.56 243.8M481.56 243.8L498.75 247.89M481.56 243.8L466.94 248.78M498.75 247.89L502.2 257.08M502.2 257.08L519.8 261.32M502.2 257.08L487.46 262.26M519.8 261.32L523.58 270.85M523.58 270.85L541.61 275.23M523.58 270.85L508.74 276.22M541.61 275.23L545.73 285.12M545.73 285.12L564.22 289.66M545.73 285.12L530.79 290.69M564.22 289.66L568.72 299.91M568.72 299.91L587.68 304.62M568.72 299.91L553.67 305.71M587.68 304.62L592.57 315.27M592.57 315.27L612.03 320.16M592.57 315.27L577.43 321.3M612.03 320.16L617.35 331.23M617.35 331.23L637.32 336.3M617.35 331.23L602.11 337.5M637.32 336.3L643.1 347.81M643.1 347.81L663.63 353.08M643.1 347.81L627.77 354.34M663.63 353.08L669.89 365.06M669.89 365.06L690.99 370.54M669.89 365.06L654.47 371.87M690.99 370.54L697.78 383.01M697.78 383.01L719.48 388.72M697.78 383.01L682.28 390.12M719.48 388.72L726.84 401.72M726.84 401.72L749.18 407.66M726.84 401.72L711.26 409.14M509.6 234.07L513.12 242.92M513.12 242.92L530.43 247M513.12 242.92L498.75 247.89M530.43 247L534.27 256.16M534.27 256.16L552 260.38M534.27 256.16L519.8 261.32M552 260.38L556.18 269.88M556.18 269.88L574.34 274.25M556.18 269.88L541.61 275.23M574.34 274.25L578.88 284.1M578.88 284.1L597.51 288.63M578.88 284.1L564.22 289.66M597.51 288.63L602.43 298.85M602.43 298.85L621.53 303.54M602.43 298.85L587.68 304.62M621.53 303.54L626.87 314.16M626.87 314.16L646.48 319.03M626.87 314.16L612.03 320.16M646.48 319.03L652.26 330.05M652.26 330.05L672.39 335.11M652.26 330.05L637.32 336.3M672.39 335.11L678.64 346.57M678.64 346.57L699.32 351.83M678.64 346.57L663.63 353.08M699.32 351.83L706.08 363.76M706.08 363.76L727.34 369.22M706.08 363.76L690.99 370.54M727.34 369.22L734.64 381.65M734.64 381.65L756.52 387.33M734.64 381.65L719.48 388.72M756.52 387.33L764.4 400.28M764.4 400.28L786.92 406.2M764.4 400.28L749.18 407.66" stroke="#e4efe0" stroke-opacity="0.05" stroke-width="5" fill="none" filter="url(#blur2)"/>
<path d="M61.63 321.4L59.43 332.65M59.43 332.65L76.44 337.8M59.43 332.65L39.43 339.02M76.44 337.8L74.41 349.5M74.41 349.5L91.85 354.86M74.41 349.5L54.12 356.14M91.85 354.86L89.99 367.04M89.99 367.04L107.88 372.62M89.99 367.04L69.43 373.97M107.88 372.62L106.23 385.32M106.23 385.32L124.6 391.12M106.23 385.32L85.37 392.55M124.6 391.12L123.16 404.37M123.16 404.37L142.02 410.42M123.16 404.37L102 411.92M142.02 410.42L140.82 424.24M140.82 424.24L160.21 430.56M140.82 424.24L119.36 432.14M160.21 430.56L159.27 445.01M159.27 445.01L179.22 451.6M159.27 445.01L137.49 453.27M179.22 451.6L178.55 466.71M178.55 466.71L199.09 473.6M178.55 466.71L156.46 475.37M199.09 473.6L198.74 489.42M198.74 489.42L219.89 496.63M198.74 489.42L176.32 498.51M219.89 496.63L219.88 513.22M219.88 513.22L241.69 520.77M219.88 513.22L197.13 522.76M241.69 520.77L242.05 538.18M242.05 538.18L264.57 546.09M242.05 538.18L218.97 548.2M264.57 546.09L265.34 564.38M265.34 564.38L288.59 572.69M265.34 564.38L241.92 574.93M288.59 572.69L289.81 591.93M289.81 591.93L313.85 600.66M289.81 591.93L266.05 603.05M313.85 600.66L315.58 620.92M315.58 620.92L340.46 630.12M315.58 620.92L291.46 632.66M82.89 304.53L81.03 315.31M81.03 315.31L97.79 320.25M81.03 315.31L61.63 321.4M97.79 320.25L96.1 331.45M96.1 331.45L113.28 336.59M96.1 331.45L76.44 337.8M113.28 336.59L111.77 348.24M111.77 348.24L129.39 353.58M111.77 348.24L91.85 354.86M129.39 353.58L128.08 365.72M128.08 365.72L146.16 371.27M128.08 365.72L107.88 372.62M146.16 371.27L145.07 383.92M145.07 383.92L163.63 389.7M145.07 383.92L124.6 391.12M163.63 389.7L162.78 402.89M162.78 402.89L181.85 408.92M162.78 402.89L142.02 410.42M181.85 408.92L181.26 422.69M181.26 422.69L200.86 428.98M181.26 422.69L160.21 430.56M200.86 428.98L200.56 443.36M200.56 443.36L220.73 449.93M200.56 443.36L179.22 451.6M220.73 449.93L220.73 464.97M220.73 464.97L241.49 471.83M220.73 464.97L199.09 473.6M241.49 471.83L241.83 487.59M241.83 487.59L263.23 494.76M241.83 487.59L219.89 496.63M263.23 494.76L263.94 511.27M263.94 511.27L286.01 518.79M263.94 511.27L241.69 520.77M286.01 518.79L287.13 536.11M287.13 536.11L309.9 543.99M287.13 536.11L264.57 546.09M309.9 543.99L311.46 562.19M311.46 562.19L334.99 570.46M311.46 562.19L288.59 572.69M334.99 570.46L337.05 589.6M337.05 589.6L361.38 598.29M337.05 589.6L313.85 600.66M118.25 303.44L116.87 314.17M116.87 314.17L133.8 319.1M116.87 314.17L97.79 320.25M133.8 319.1L132.6 330.26M132.6 330.26L149.96 335.38M132.6 330.26L113.28 336.59M149.96 335.38L148.97 346.99M148.97 346.99L166.76 352.31M148.97 346.99L129.39 353.58M166.76 352.31L165.99 364.4M165.99 364.4L184.26 369.93M165.99 364.4L146.16 371.27M184.26 369.93L183.73 382.53M183.73 382.53L202.48 388.29M183.73 382.53L163.63 389.7M202.48 388.29L202.21 401.43M202.21 401.43L221.48 407.43M202.21 401.43L181.85 408.92M221.48 407.43L221.5 421.14M221.5 421.14L241.31 427.4M221.5 421.14L200.86 428.98M241.31 427.4L241.63 441.73M241.63 441.73L262.02 448.27M241.63 441.73L220.73 449.93M262.02 448.27L262.68 463.25M262.68 463.25L283.67 470.08M262.68 463.25L241.49 471.83M283.67 470.08L284.7 485.76M284.7 485.76L306.33 492.9M284.7 485.76L263.23 494.76M306.33 492.9L307.76 509.34M307.76 509.34L330.08 516.82M307.76 509.34L286.01 518.79M330.08 516.82L331.94 534.06M331.94 534.06L354.98 541.9M331.94 534.06L309.9 543.99M354.98 541.9L357.33 560.01M357.33 560.01L381.13 568.24M357.33 560.01L334.99 570.46M381.13 568.24L384 587.28M384 587.28L408.62 595.93M384 587.28L361.38 598.29M137.86 287.32L136.76 297.62M136.76 297.62L153.45 302.35M136.76 297.62L118.25 303.44M153.45 302.35L152.55 313.05M152.55 313.05L169.64 317.96M152.55 313.05L133.8 319.1M169.64 317.96L168.94 329.08M168.94 329.08L186.47 334.18M168.94 329.08L149.96 335.38M186.47 334.18L185.99 345.75M185.99 345.75L203.96 351.05M185.99 345.75L166.76 352.31M203.96 351.05L203.73 363.09M203.73 363.09L222.18 368.6M203.73 363.09L184.26 369.93M222.18 368.6L222.2 381.15M222.2 381.15L241.15 386.89M222.2 381.15L202.48 388.29M241.15 386.89L241.45 399.97M241.45 399.97L260.92 405.95M241.45 399.97L221.48 407.43M260.92 405.95L261.53 419.61M261.53 419.61L281.55 425.84M261.53 419.61L241.31 427.4M281.55 425.84L282.5 440.11M282.5 440.11L303.1 446.61M282.5 440.11L262.02 448.27M303.1 446.61L304.41 461.53M304.41 461.53L325.63 468.33M304.41 461.53L283.67 470.08M325.63 468.33L327.34 483.94M327.34 483.94L349.21 491.05M327.34 483.94L306.33 492.9M349.21 491.05L351.34 507.41M351.34 507.41L373.9 514.86M351.34 507.41L330.08 516.82M373.9 514.86L376.51 532.02M376.51 532.02L399.8 539.83M376.51 532.02L354.98 541.9M399.8 539.83L402.93 557.85M402.93 557.85L426.99 566.04M402.93 557.85L381.13 568.24M172.29 286.29L171.66 296.55M171.66 296.55L188.5 301.27M171.66 296.55L153.45 302.35M188.5 301.27L188.07 311.93M188.07 311.93L205.33 316.82M188.07 311.93L169.64 317.96M205.33 316.82L205.12 327.9M205.12 327.9L222.81 332.98M205.12 327.9L186.47 334.18M222.81 332.98L222.84 344.51M222.84 344.51L240.99 349.79M222.84 344.51L203.96 351.05M240.99 349.79L241.28 361.78M241.28 361.78L259.91 367.27M241.28 361.78L222.18 368.6M259.91 367.27L260.48 379.77M260.48 379.77L279.62 385.49M260.48 379.77L241.15 386.89M279.62 385.49L280.5 398.52M280.5 398.52L300.16 404.47M280.5 398.52L260.92 405.95M300.16 404.47L301.37 418.07M301.37 418.07L321.6 424.28M301.37 418.07L281.55 425.84M321.6 424.28L323.16 438.49M323.16 438.49L343.98 444.97M323.16 438.49L303.1 446.61M343.98 444.97L345.93 459.82M345.93 459.82L367.37 466.59M345.93 459.82L325.63 468.33M367.37 466.59L369.75 482.14M369.75 482.14L391.85 489.22M369.75 482.14L349.21 491.05M391.85 489.22L394.69 505.5M394.69 505.5L417.49 512.91M394.69 505.5L373.9 514.86M417.49 512.91L420.83 529.99M420.83 529.99L444.37 537.76M420.83 529.99L399.8 539.83M444.37 537.76L448.26 555.69M448.26 555.69L472.6 563.84M448.26 555.69L426.99 566.04M190.38 270.88L189.98 280.73M189.98 280.73L206.58 285.26M189.98 280.73L172.29 286.29M206.58 285.26L206.4 295.49M206.4 295.49L223.4 300.19M206.4 295.49L188.5 301.27M223.4 300.19L223.43 310.81M223.43 310.81L240.85 315.69M223.43 310.81L205.33 316.82M240.85 315.69L241.13 326.73M241.13 326.73L258.99 331.79M241.13 326.73L222.81 332.98M258.99 331.79L259.53 343.27M259.53 343.27L277.85 348.53M259.53 343.27L240.99 349.79M277.85 348.53L278.66 360.48M278.66 360.48L297.48 365.95M278.66 360.48L259.91 367.27M297.48 365.95L298.59 378.4M298.59 378.4L317.91 384.1M298.59 378.4L279.62 385.49M317.91 384.1L319.35 397.08M319.35 397.08L339.22 403.01M319.35 397.08L300.16 404.47M339.22 403.01L341.01 416.55M341.01 416.55L361.44 422.74M341.01 416.55L321.6 424.28M361.44 422.74L363.61 436.88M363.61 436.88L384.64 443.33M363.61 436.88L343.98 444.97M384.64 443.33L387.23 458.12M387.23 458.12L408.89 464.86M387.23 458.12L367.37 466.59M408.89 464.86L411.93 480.34M411.93 480.34L434.27 487.39M411.93 480.34L391.85 489.22M434.27 487.39L437.8 503.6M437.8 503.6L460.84 510.97M437.8 503.6L417.49 512.91M460.84 510.97L464.9 527.97M464.9 527.97L488.7 535.71M464.9 527.97L444.37 537.76M223.94 269.9L223.98 279.72M223.98 279.72L240.72 284.24M223.98 279.72L206.58 285.26M240.72 284.24L240.99 294.43M240.99 294.43L258.14 299.12M240.99 294.43L223.4 300.19M258.14 299.12L258.64 309.7M258.64 309.7L276.22 314.56M258.64 309.7L240.85 315.69M276.22 314.56L276.98 325.56M276.98 325.56L295.01 330.6M276.98 325.56L258.99 331.79M295.01 330.6L296.04 342.04M296.04 342.04L314.54 347.28M296.04 342.04L277.85 348.53M314.54 347.28L315.87 359.19M315.87 359.19L334.86 364.64M315.87 359.19L297.48 365.95M334.86 364.64L336.51 377.04M336.51 377.04L356.02 382.71M336.51 377.04L317.91 384.1M356.02 382.71L358.02 395.64M358.02 395.64L378.08 401.55M358.02 395.64L339.22 403.01M378.08 401.55L380.45 415.04M380.45 415.04L401.08 421.19M380.45 415.04L361.44 422.74M401.08 421.19L403.86 435.28M403.86 435.28L425.1 441.71M403.86 435.28L384.64 443.33M425.1 441.71L428.32 456.43M428.32 456.43L450.2 463.14M428.32 456.43L408.89 464.86M450.2 463.14L453.9 478.55M453.9 478.55L476.46 485.57M453.9 478.55L434.27 487.39M476.46 485.57L480.67 501.7M480.67 501.7L503.95 509.05M480.67 501.7L460.84 510.97M503.95 509.05L508.73 525.97M508.73 525.97L532.77 533.66M508.73 525.97L488.7 535.71M240.61 255.15L240.86 264.59M240.86 264.59L257.36 268.93M240.86 264.59L223.94 269.9M257.36 268.93L257.83 278.72M257.83 278.72L274.72 283.22M257.83 278.72L240.72 284.24M274.72 283.22L275.43 293.38M275.43 293.38L292.74 298.05M275.43 293.38L258.14 299.12M292.74 298.05L293.7 308.59M293.7 308.59L311.44 313.44M293.7 308.59L276.22 314.56M311.44 313.44L312.67 324.4M312.67 324.4L330.87 329.42M312.67 324.4L295.01 330.6M330.87 329.42L332.39 340.82M332.39 340.82L351.06 346.04M332.39 340.82L314.54 347.28M351.06 346.04L352.9 357.9M352.9 357.9L372.07 363.33M352.9 357.9L334.86 364.64M372.07 363.33L374.26 375.68M374.26 375.68L393.95 381.33M374.26 375.68L356.02 382.71M393.95 381.33L396.5 394.21M396.5 394.21L416.75 400.09M396.5 394.21L378.08 401.55M416.75 400.09L419.7 413.53M419.7 413.53L440.53 419.66M419.7 413.53L401.08 421.19M440.53 419.66L443.91 433.69M443.91 433.69L465.35 440.09M443.91 433.69L425.1 441.71M465.35 440.09L469.19 454.75M469.19 454.75L491.29 461.43M469.19 454.75L450.2 463.14M491.29 461.43L495.64 476.77M495.64 476.77L518.42 483.76M495.64 476.77L476.46 485.57M518.42 483.76L523.32 499.82M523.32 499.82L546.83 507.13M523.32 499.82L503.95 509.05M273.33 254.23L274 263.64M274 263.64L290.64 267.97M274 263.64L257.36 268.93M290.64 267.97L291.54 277.72M291.54 277.72L308.58 282.21M291.54 277.72L274.72 283.22M308.58 282.21L309.73 292.33M309.73 292.33L327.19 296.98M309.73 292.33L292.74 298.05M327.19 296.98L328.6 307.49M328.6 307.49L346.5 312.32M328.6 307.49L311.44 313.44M346.5 312.32L348.21 323.24M348.21 323.24L366.56 328.25M348.21 323.24L330.87 329.42M366.56 328.25L368.58 339.6M368.58 339.6L387.42 344.8M368.58 339.6L351.06 346.04M387.42 344.8L389.77 356.62M389.77 356.62L409.11 362.03M389.77 356.62L372.07 363.33M409.11 362.03L411.82 374.33M411.82 374.33L431.7 379.96M411.82 374.33L393.95 381.33M431.7 379.96L434.8 392.79M434.8 392.79L455.23 398.65M434.8 392.79L416.75 400.09M455.23 398.65L458.75 412.03M458.75 412.03L479.78 418.14M458.75 412.03L440.53 419.66M479.78 418.14L483.75 432.1M483.75 432.1L505.4 438.48M483.75 432.1L465.35 440.09M505.4 438.48L509.86 453.07M509.86 453.07L532.17 459.73M509.86 453.07L491.29 461.43M532.17 459.73L537.16 475M537.16 475L560.16 481.96M537.16 475L518.42 483.76M560.16 481.96L565.73 497.95M565.73 497.95L589.47 505.23M565.73 497.95L546.83 507.13M288.69 240.09L289.53 249.14M289.53 249.14L305.93 253.31M289.53 249.14L273.33 254.23M305.93 253.31L307 262.69M307 262.69L323.78 267.01M307 262.69L290.64 267.97M323.78 267.01L325.1 276.73M325.1 276.73L342.29 281.2M325.1 276.73L308.58 282.21M342.29 281.2L343.87 291.29M343.87 291.29L361.48 295.92M343.87 291.29L327.19 296.98M361.48 295.92L363.35 306.4M363.35 306.4L381.41 311.2M363.35 306.4L346.5 312.32M381.41 311.2L383.58 322.08M383.58 322.08L402.1 327.08M383.58 322.08L366.56 328.25M402.1 327.08L404.6 338.39M404.6 338.39L423.61 343.57M404.6 338.39L387.42 344.8M423.61 343.57L426.46 355.34M426.46 355.34L445.98 360.73M426.46 355.34L409.11 362.03M445.98 360.73L449.21 372.99M449.21 372.99L469.27 378.6M449.21 372.99L431.7 379.96M469.27 378.6L472.91 391.37M472.91 391.37L493.53 397.21M472.91 391.37L455.23 398.65M493.53 397.21L497.62 410.53M497.62 410.53L518.84 416.62M497.62 410.53L479.78 418.14M518.84 416.62L523.39 430.53M523.39 430.53L545.25 436.87M523.39 430.53L505.4 438.48M545.25 436.87L550.32 451.41M550.32 451.41L572.84 458.04M550.32 451.41L532.17 459.73M572.84 458.04L578.46 473.24M578.46 473.24L601.69 480.17M578.46 473.24L560.16 481.96M320.63 239.22L321.86 248.24M321.86 248.24L338.39 252.4M321.86 248.24L305.93 253.31M338.39 252.4L339.87 261.74M339.87 261.74L356.79 266.05M339.87 261.74L323.78 267.01M356.79 266.05L358.53 275.74M358.53 275.74L375.86 280.19M358.53 275.74L342.29 281.2M375.86 280.19L377.88 290.25M377.88 290.25L395.64 294.87M377.88 290.25L361.48 295.92M395.64 294.87L397.95 305.3M397.95 305.3L416.16 310.1M397.95 305.3L381.41 311.2M416.16 310.1L418.8 320.94M418.8 320.94L437.48 325.91M418.8 320.94L402.1 327.08M437.48 325.91L440.46 337.18M440.46 337.18L459.63 342.35M440.46 337.18L423.61 343.57M459.63 342.35L462.98 354.07M462.98 354.07L482.67 359.44M462.98 354.07L445.98 360.73M482.67 359.44L486.42 371.65M486.42 371.65L506.66 377.24M486.42 371.65L469.27 378.6M506.66 377.24L510.84 389.96M510.84 389.96L531.65 395.78M510.84 389.96L493.53 397.21M531.65 395.78L536.29 409.05M536.29 409.05L557.7 415.11M536.29 409.05L518.84 416.62M557.7 415.11L562.84 428.96M562.84 428.96L584.89 435.28M562.84 428.96L545.25 436.87M584.89 435.28L590.57 449.75M590.57 449.75L613.29 456.35M590.57 449.75L572.84 458.04M613.29 456.35L619.55 471.49M619.55 471.49L642.99 478.38M619.55 471.49L601.69 480.17M334.78 225.66L336.15 234.35M336.15 234.35L352.44 238.35M336.15 234.35L320.63 239.22M352.44 238.35L354.06 247.34M354.06 247.34L370.72 251.49M354.06 247.34L338.39 252.4M370.72 251.49L372.6 260.8M372.6 260.8L389.66 265.09M372.6 260.8L356.79 266.05M389.66 265.09L391.81 274.75M391.81 274.75L409.29 279.19M391.81 274.75L375.86 280.19M409.29 279.19L411.73 289.21M411.73 289.21L429.64 293.82M411.73 289.21L395.64 294.87M429.64 293.82L432.4 304.22M432.4 304.22L450.76 308.99M432.4 304.22L416.16 310.1M450.76 308.99L453.86 319.79M453.86 319.79L472.7 324.75M453.86 319.79L437.48 325.91M472.7 324.75L476.16 335.98M476.16 335.98L495.49 341.13M476.16 335.98L459.63 342.35M495.49 341.13L499.34 352.81M499.34 352.81L519.2 358.16M499.34 352.81L482.67 359.44M519.2 358.16L523.46 370.32M523.46 370.32L543.87 375.89M523.46 370.32L506.66 377.24M543.87 375.89L548.59 388.56M548.59 388.56L569.58 394.35M548.59 388.56L531.65 395.78M569.58 394.35L574.77 407.57M574.77 407.57L596.37 413.6M574.77 407.57L557.7 415.11M596.37 413.6L602.09 427.4M602.09 427.4L624.34 433.69M602.09 427.4L584.89 435.28M624.34 433.69L630.61 448.1M630.61 448.1L653.54 454.68M630.61 448.1L613.29 456.35M365.96 224.84L367.71 233.49M367.71 233.49L384.12 237.49M367.71 233.49L352.44 238.35M384.12 237.49L386.13 246.45M386.13 246.45L402.92 250.58M386.13 246.45L370.72 251.49M402.92 250.58L405.2 259.87M405.2 259.87L422.4 264.14M405.2 259.87L389.66 265.09M422.4 264.14L424.96 273.77M424.96 273.77L442.58 278.2M424.96 273.77L409.29 279.19M442.58 278.2L445.45 288.18M445.45 288.18L463.5 292.77M445.45 288.18L429.64 293.82M463.5 292.77L466.7 303.13M466.7 303.13L485.21 307.89M466.7 303.13L450.76 308.99M485.21 307.89L488.77 318.66M488.77 318.66L507.76 323.59M488.77 318.66L472.7 324.75M507.76 323.59L511.69 334.78M511.69 334.78L531.19 339.91M511.69 334.78L495.49 341.13M531.19 339.91L535.53 351.55M535.53 351.55L555.56 356.88M535.53 351.55L519.2 358.16M555.56 356.88L560.33 369M560.33 369L580.91 374.54M560.33 369L543.87 375.89M580.91 374.54L586.15 387.16M586.15 387.16L607.32 392.93M586.15 387.16L569.58 394.35M607.32 392.93L613.07 406.1M613.07 406.1L634.86 412.11M613.07 406.1L596.37 413.6M634.86 412.11L641.14 425.85M641.14 425.85L663.58 432.11M641.14 425.85L624.34 433.69M663.58 432.11L670.45 446.46M670.45 446.46L693.58 453.01M670.45 446.46L653.54 454.68M378.97 211.82L380.85 220.16M380.85 220.16L397.02 224.02M380.85 220.16L365.96 224.84M397.02 224.02L399.14 232.65M399.14 232.65L415.68 236.63M399.14 232.65L384.12 237.49M415.68 236.63L418.07 245.56M418.07 245.56L435 249.68M418.07 245.56L402.92 250.58M435 249.68L437.66 258.94M437.66 258.94L455 263.2M437.66 258.94L422.4 264.14M455 263.2L457.97 272.79M457.97 272.79L475.73 277.21M457.97 272.79L442.58 278.2M475.73 277.21L479.02 287.16M479.02 287.16L497.22 291.73M479.02 287.16L463.5 292.77M497.22 291.73L500.85 302.06M500.85 302.06L519.52 306.8M500.85 302.06L485.21 307.89M519.52 306.8L523.52 317.52M523.52 317.52L542.67 322.44M523.52 317.52L507.76 323.59M542.67 322.44L547.07 333.59M547.07 333.59L566.73 338.7M547.07 333.59L531.19 339.91M566.73 338.7L571.55 350.3M571.55 350.3L591.74 355.61M571.55 350.3L555.56 356.88M591.74 355.61L597.02 367.68M597.02 367.68L617.78 373.2M597.02 367.68L580.91 374.54M617.78 373.2L623.54 385.77M623.54 385.77L644.89 391.52M623.54 385.77L607.32 392.93M644.89 391.52L651.17 404.63M651.17 404.63L673.15 410.62M651.17 404.63L634.86 412.11M673.15 410.62L680 424.3M680 424.3L702.63 430.54M680 424.3L663.58 432.11M409.43 211.04L411.66 219.36M411.66 219.36L427.95 223.2M411.66 219.36L397.02 224.02M427.95 223.2L430.44 231.8M430.44 231.8L447.11 235.77M430.44 231.8L415.68 236.63M447.11 235.77L449.88 244.68M449.88 244.68L466.94 248.78M449.88 244.68L435 249.68M466.94 248.78L470 258.01M470 258.01L487.46 262.26M470 258.01L455 263.2M487.46 262.26L490.84 271.82M490.84 271.82L508.74 276.22M490.84 271.82L475.73 277.21M508.74 276.22L512.45 286.13M512.45 286.13L530.79 290.69M512.45 286.13L497.22 291.73M530.79 290.69L534.86 300.98M534.86 300.98L553.67 305.71M534.86 300.98L519.52 306.8M553.67 305.71L558.12 316.4M558.12 316.4L577.43 321.3M558.12 316.4L542.67 322.44M577.43 321.3L582.29 332.41M582.29 332.41L602.11 337.5M582.29 332.41L566.73 338.7M602.11 337.5L607.41 349.05M607.41 349.05L627.77 354.34M607.41 349.05L591.74 355.61M627.77 354.34L633.54 366.36M633.54 366.36L654.47 371.87M633.54 366.36L617.78 373.2M654.47 371.87L660.75 384.39M660.75 384.39L682.28 390.12M660.75 384.39L644.89 391.52M682.28 390.12L689.1 403.17M689.1 403.17L711.26 409.14M689.1 403.17L673.15 410.62M711.26 409.14L718.66 422.76M718.66 422.76L741.49 428.98M718.66 422.76L702.63 430.54M421.4 198.54L423.72 206.56M423.72 206.56L439.78 210.26M423.72 206.56L409.43 211.04M439.78 210.26L442.36 218.55M442.36 218.55L458.77 222.38M442.36 218.55L427.95 223.2M458.77 222.38L461.63 230.96M461.63 230.96L478.42 234.92M461.63 230.96L447.11 235.77M478.42 234.92L481.56 243.8M481.56 243.8L498.75 247.89M481.56 243.8L466.94 248.78M498.75 247.89L502.2 257.08M502.2 257.08L519.8 261.32M502.2 257.08L487.46 262.26M519.8 261.32L523.58 270.85M523.58 270.85L541.61 275.23M523.58 270.85L508.74 276.22M541.61 275.23L545.73 285.12M545.73 285.12L564.22 289.66M545.73 285.12L530.79 290.69M564.22 289.66L568.72 299.91M568.72 299.91L587.68 304.62M568.72 299.91L553.67 305.71M587.68 304.62L592.57 315.27M592.57 315.27L612.03 320.16M592.57 315.27L577.43 321.3M612.03 320.16L617.35 331.23M617.35 331.23L637.32 336.3M617.35 331.23L602.11 337.5M637.32 336.3L643.1 347.81M643.1 347.81L663.63 353.08M643.1 347.81L627.77 354.34M663.63 353.08L669.89 365.06M669.89 365.06L690.99 370.54M669.89 365.06L654.47 371.87M690.99 370.54L697.78 383.01M697.78 383.01L719.48 388.72M697.78 383.01L682.28 390.12M719.48 388.72L726.84 401.72M726.84 401.72L749.18 407.66M726.84 401.72L711.26 409.14M509.6 234.07L513.12 242.92M513.12 242.92L530.43 247M513.12 242.92L498.75 247.89M530.43 247L534.27 256.16M534.27 256.16L552 260.38M534.27 256.16L519.8 261.32M552 260.38L556.18 269.88M556.18 269.88L574.34 274.25M556.18 269.88L541.61 275.23M574.34 274.25L578.88 284.1M578.88 284.1L597.51 288.63M578.88 284.1L564.22 289.66M597.51 288.63L602.43 298.85M602.43 298.85L621.53 303.54M602.43 298.85L587.68 304.62M621.53 303.54L626.87 314.16M626.87 314.16L646.48 319.03M626.87 314.16L612.03 320.16M646.48 319.03L652.26 330.05M652.26 330.05L672.39 335.11M652.26 330.05L637.32 336.3M672.39 335.11L678.64 346.57M678.64 346.57L699.32 351.83M678.64 346.57L663.63 353.08M699.32 351.83L706.08 363.76M706.08 363.76L727.34 369.22M706.08 363.76L690.99 370.54M727.34 369.22L734.64 381.65M734.64 381.65L756.52 387.33M734.64 381.65L719.48 388.72M756.52 387.33L764.4 400.28M764.4 400.28L786.92 406.2M764.4 400.28L749.18 407.66" stroke="#dbe8d6" stroke-opacity="0.30" stroke-width="1.9" fill="none"/>
<g fill="#d9e8d6" fill-opacity="0.42">
<ellipse cx="200.86" cy="428.98" rx="3.0" ry="2.4"/>
<ellipse cx="200.56" cy="443.36" rx="3.0" ry="2.4"/>
<ellipse cx="220.73" cy="449.93" rx="3.0" ry="2.4"/>
<ellipse cx="220.73" cy="464.97" rx="3.0" ry="2.4"/>
<ellipse cx="202.48" cy="388.29" rx="3.0" ry="2.4"/>
<ellipse cx="202.21" cy="401.43" rx="3.0" ry="2.4"/>
<ellipse cx="221.48" cy="407.43" rx="3.0" ry="2.4"/>
<ellipse cx="221.5" cy="421.14" rx="3.0" ry="2.4"/>
<ellipse cx="241.31" cy="427.4" rx="3.0" ry="2.4"/>
<ellipse cx="241.63" cy="441.73" rx="3.0" ry="2.4"/>
<ellipse cx="262.02" cy="448.27" rx="3.0" ry="2.4"/>
<ellipse cx="262.68" cy="463.25" rx="3.0" ry="2.4"/>
<ellipse cx="203.96" cy="351.05" rx="3.0" ry="2.4"/>
<ellipse cx="203.73" cy="363.09" rx="3.0" ry="2.4"/>
<ellipse cx="222.18" cy="368.6" rx="3.0" ry="2.4"/>
<ellipse cx="222.2" cy="381.15" rx="3.0" ry="2.4"/>
<ellipse cx="241.15" cy="386.89" rx="3.0" ry="2.4"/>
<ellipse cx="241.45" cy="399.97" rx="3.0" ry="2.4"/>
<ellipse cx="260.92" cy="405.95" rx="3.0" ry="2.4"/>
<ellipse cx="261.53" cy="419.61" rx="3.0" ry="2.4"/>
<ellipse cx="281.55" cy="425.84" rx="3.0" ry="2.4"/>
<ellipse cx="282.5" cy="440.11" rx="3.0" ry="2.4"/>
<ellipse cx="303.1" cy="446.61" rx="3.0" ry="2.4"/>
<ellipse cx="304.41" cy="461.53" rx="3.0" ry="2.4"/>
<ellipse cx="325.63" cy="468.33" rx="3.0" ry="2.4"/>
<ellipse cx="205.33" cy="316.82" rx="3.0" ry="2.4"/>
<ellipse cx="205.12" cy="327.9" rx="3.0" ry="2.4"/>
<ellipse cx="222.81" cy="332.98" rx="3.0" ry="2.4"/>
<ellipse cx="222.84" cy="344.51" rx="3.0" ry="2.4"/>
<ellipse cx="240.99" cy="349.79" rx="3.0" ry="2.4"/>
<ellipse cx="241.28" cy="361.78" rx="3.0" ry="2.4"/>
<ellipse cx="259.91" cy="367.27" rx="3.0" ry="2.4"/>
<ellipse cx="260.48" cy="379.77" rx="3.0" ry="2.4"/>
<ellipse cx="279.62" cy="385.49" rx="3.0" ry="2.4"/>
<ellipse cx="280.5" cy="398.52" rx="3.0" ry="2.4"/>
<ellipse cx="300.16" cy="404.47" rx="3.0" ry="2.4"/>
<ellipse cx="301.37" cy="418.07" rx="3.0" ry="2.4"/>
<ellipse cx="321.6" cy="424.28" rx="3.0" ry="2.4"/>
<ellipse cx="323.16" cy="438.49" rx="3.0" ry="2.4"/>
<ellipse cx="343.98" cy="444.97" rx="3.0" ry="2.4"/>
<ellipse cx="345.93" cy="459.82" rx="3.0" ry="2.4"/>
<ellipse cx="367.37" cy="466.59" rx="3.0" ry="2.4"/>
<ellipse cx="206.58" cy="285.26" rx="3.0" ry="2.4"/>
<ellipse cx="206.4" cy="295.49" rx="3.0" ry="2.4"/>
<ellipse cx="223.4" cy="300.19" rx="3.0" ry="2.4"/>
<ellipse cx="223.43" cy="310.81" rx="3.0" ry="2.4"/>
<ellipse cx="240.85" cy="315.69" rx="3.0" ry="2.4"/>
<ellipse cx="241.13" cy="326.73" rx="3.0" ry="2.4"/>
<ellipse cx="258.99" cy="331.79" rx="3.0" ry="2.4"/>
<ellipse cx="259.53" cy="343.27" rx="3.0" ry="2.4"/>
<ellipse cx="277.85" cy="348.53" rx="3.0" ry="2.4"/>
<ellipse cx="278.66" cy="360.48" rx="3.0" ry="2.4"/>
<ellipse cx="297.48" cy="365.95" rx="3.0" ry="2.4"/>
<ellipse cx="298.59" cy="378.4" rx="3.0" ry="2.4"/>
<ellipse cx="317.91" cy="384.1" rx="3.0" ry="2.4"/>
<ellipse cx="319.35" cy="397.08" rx="3.0" ry="2.4"/>
<ellipse cx="339.22" cy="403.01" rx="3.0" ry="2.4"/>
<ellipse cx="341.01" cy="416.55" rx="3.0" ry="2.4"/>
<ellipse cx="361.44" cy="422.74" rx="3.0" ry="2.4"/>
<ellipse cx="363.61" cy="436.88" rx="3.0" ry="2.4"/>
<ellipse cx="384.64" cy="443.33" rx="3.0" ry="2.4"/>
<ellipse cx="387.23" cy="458.12" rx="3.0" ry="2.4"/>
<ellipse cx="408.89" cy="464.86" rx="3.0" ry="2.4"/>
<ellipse cx="223.94" cy="269.9" rx="3.0" ry="2.4"/>
<ellipse cx="223.98" cy="279.72" rx="3.0" ry="2.4"/>
<ellipse cx="240.72" cy="284.24" rx="3.0" ry="2.4"/>
<ellipse cx="240.99" cy="294.43" rx="3.0" ry="2.4"/>
<ellipse cx="258.14" cy="299.12" rx="3.0" ry="2.4"/>
<ellipse cx="258.64" cy="309.7" rx="3.0" ry="2.4"/>
<ellipse cx="276.22" cy="314.56" rx="3.0" ry="2.4"/>
<ellipse cx="276.98" cy="325.56" rx="3.0" ry="2.4"/>
<ellipse cx="295.01" cy="330.6" rx="3.0" ry="2.4"/>
<ellipse cx="296.04" cy="342.04" rx="3.0" ry="2.4"/>
<ellipse cx="314.54" cy="347.28" rx="3.0" ry="2.4"/>
<ellipse cx="315.87" cy="359.19" rx="3.0" ry="2.4"/>
<ellipse cx="334.86" cy="364.64" rx="3.0" ry="2.4"/>
<ellipse cx="336.51" cy="377.04" rx="3.0" ry="2.4"/>
<ellipse cx="356.02" cy="382.71" rx="3.0" ry="2.4"/>
<ellipse cx="358.02" cy="395.64" rx="3.0" ry="2.4"/>
<ellipse cx="378.08" cy="401.55" rx="3.0" ry="2.4"/>
<ellipse cx="380.45" cy="415.04" rx="3.0" ry="2.4"/>
<ellipse cx="401.08" cy="421.19" rx="3.0" ry="2.4"/>
<ellipse cx="403.86" cy="435.28" rx="3.0" ry="2.4"/>
<ellipse cx="425.1" cy="441.71" rx="3.0" ry="2.4"/>
<ellipse cx="428.32" cy="456.43" rx="3.0" ry="2.4"/>
<ellipse cx="450.2" cy="463.14" rx="3.0" ry="2.4"/>
<ellipse cx="240.61" cy="255.15" rx="3.0" ry="2.4"/>
<ellipse cx="240.86" cy="264.59" rx="3.0" ry="2.4"/>
<ellipse cx="257.36" cy="268.93" rx="3.0" ry="2.4"/>
<ellipse cx="257.83" cy="278.72" rx="3.0" ry="2.4"/>
<ellipse cx="274.72" cy="283.22" rx="3.0" ry="2.4"/>
<ellipse cx="275.43" cy="293.38" rx="3.0" ry="2.4"/>
<ellipse cx="292.74" cy="298.05" rx="3.0" ry="2.4"/>
<ellipse cx="293.7" cy="308.59" rx="3.0" ry="2.4"/>
<ellipse cx="311.44" cy="313.44" rx="3.0" ry="2.4"/>
<ellipse cx="312.67" cy="324.4" rx="3.0" ry="2.4"/>
<ellipse cx="330.87" cy="329.42" rx="3.0" ry="2.4"/>
<ellipse cx="332.39" cy="340.82" rx="3.0" ry="2.4"/>
<ellipse cx="351.06" cy="346.04" rx="3.0" ry="2.4"/>
<ellipse cx="352.9" cy="357.9" rx="3.0" ry="2.4"/>
<ellipse cx="372.07" cy="363.33" rx="3.0" ry="2.4"/>
<ellipse cx="374.26" cy="375.68" rx="3.0" ry="2.4"/>
<ellipse cx="393.95" cy="381.33" rx="3.0" ry="2.4"/>
<ellipse cx="396.5" cy="394.21" rx="3.0" ry="2.4"/>
<ellipse cx="416.75" cy="400.09" rx="3.0" ry="2.4"/>
<ellipse cx="419.7" cy="413.53" rx="3.0" ry="2.4"/>
<ellipse cx="440.53" cy="419.66" rx="3.0" ry="2.4"/>
<ellipse cx="443.91" cy="433.69" rx="3.0" ry="2.4"/>
<ellipse cx="465.35" cy="440.09" rx="3.0" ry="2.4"/>
<ellipse cx="469.19" cy="454.75" rx="3.0" ry="2.4"/>
<ellipse cx="491.29" cy="461.43" rx="3.0" ry="2.4"/>
<ellipse cx="273.33" cy="254.23" rx="3.0" ry="2.4"/>
<ellipse cx="274" cy="263.64" rx="3.0" ry="2.4"/>
<ellipse cx="290.64" cy="267.97" rx="3.0" ry="2.4"/>
<ellipse cx="291.54" cy="277.72" rx="3.0" ry="2.4"/>
<ellipse cx="308.58" cy="282.21" rx="3.0" ry="2.4"/>
<ellipse cx="309.73" cy="292.33" rx="3.0" ry="2.4"/>
<ellipse cx="327.19" cy="296.98" rx="3.0" ry="2.4"/>
<ellipse cx="328.6" cy="307.49" rx="3.0" ry="2.4"/>
<ellipse cx="346.5" cy="312.32" rx="3.0" ry="2.4"/>
<ellipse cx="348.21" cy="323.24" rx="3.0" ry="2.4"/>
<ellipse cx="366.56" cy="328.25" rx="3.0" ry="2.4"/>
<ellipse cx="368.58" cy="339.6" rx="3.0" ry="2.4"/>
<ellipse cx="387.42" cy="344.8" rx="3.0" ry="2.4"/>
<ellipse cx="389.77" cy="356.62" rx="3.0" ry="2.4"/>
<ellipse cx="409.11" cy="362.03" rx="3.0" ry="2.4"/>
<ellipse cx="411.82" cy="374.33" rx="3.0" ry="2.4"/>
<ellipse cx="431.7" cy="379.96" rx="3.0" ry="2.4"/>
<ellipse cx="434.8" cy="392.79" rx="3.0" ry="2.4"/>
<ellipse cx="455.23" cy="398.65" rx="3.0" ry="2.4"/>
<ellipse cx="458.75" cy="412.03" rx="3.0" ry="2.4"/>
<ellipse cx="479.78" cy="418.14" rx="3.0" ry="2.4"/>
<ellipse cx="483.75" cy="432.1" rx="3.0" ry="2.4"/>
<ellipse cx="505.4" cy="438.48" rx="3.0" ry="2.4"/>
<ellipse cx="509.86" cy="453.07" rx="3.0" ry="2.4"/>
<ellipse cx="532.17" cy="459.73" rx="3.0" ry="2.4"/>
<ellipse cx="305.93" cy="253.31" rx="3.0" ry="2.4"/>
<ellipse cx="307" cy="262.69" rx="3.0" ry="2.4"/>
<ellipse cx="323.78" cy="267.01" rx="3.0" ry="2.4"/>
<ellipse cx="325.1" cy="276.73" rx="3.0" ry="2.4"/>
<ellipse cx="342.29" cy="281.2" rx="3.0" ry="2.4"/>
<ellipse cx="343.87" cy="291.29" rx="3.0" ry="2.4"/>
<ellipse cx="361.48" cy="295.92" rx="3.0" ry="2.4"/>
<ellipse cx="363.35" cy="306.4" rx="3.0" ry="2.4"/>
<ellipse cx="381.41" cy="311.2" rx="3.0" ry="2.4"/>
<ellipse cx="383.58" cy="322.08" rx="3.0" ry="2.4"/>
<ellipse cx="402.1" cy="327.08" rx="3.0" ry="2.4"/>
<ellipse cx="404.6" cy="338.39" rx="3.0" ry="2.4"/>
<ellipse cx="423.61" cy="343.57" rx="3.0" ry="2.4"/>
<ellipse cx="426.46" cy="355.34" rx="3.0" ry="2.4"/>
<ellipse cx="445.98" cy="360.73" rx="3.0" ry="2.4"/>
<ellipse cx="449.21" cy="372.99" rx="3.0" ry="2.4"/>
<ellipse cx="469.27" cy="378.6" rx="3.0" ry="2.4"/>
<ellipse cx="472.91" cy="391.37" rx="3.0" ry="2.4"/>
<ellipse cx="493.53" cy="397.21" rx="3.0" ry="2.4"/>
<ellipse cx="497.62" cy="410.53" rx="3.0" ry="2.4"/>
<ellipse cx="518.84" cy="416.62" rx="3.0" ry="2.4"/>
<ellipse cx="523.39" cy="430.53" rx="3.0" ry="2.4"/>
<ellipse cx="545.25" cy="436.87" rx="3.0" ry="2.4"/>
<ellipse cx="550.32" cy="451.41" rx="3.0" ry="2.4"/>
<ellipse cx="572.84" cy="458.04" rx="3.0" ry="2.4"/>
<ellipse cx="338.39" cy="252.4" rx="3.0" ry="2.4"/>
<ellipse cx="339.87" cy="261.74" rx="3.0" ry="2.4"/>
<ellipse cx="356.79" cy="266.05" rx="3.0" ry="2.4"/>
<ellipse cx="358.53" cy="275.74" rx="3.0" ry="2.4"/>
<ellipse cx="375.86" cy="280.19" rx="3.0" ry="2.4"/>
<ellipse cx="377.88" cy="290.25" rx="3.0" ry="2.4"/>
<ellipse cx="395.64" cy="294.87" rx="3.0" ry="2.4"/>
<ellipse cx="397.95" cy="305.3" rx="3.0" ry="2.4"/>
<ellipse cx="416.16" cy="310.1" rx="3.0" ry="2.4"/>
<ellipse cx="418.8" cy="320.94" rx="3.0" ry="2.4"/>
<ellipse cx="437.48" cy="325.91" rx="3.0" ry="2.4"/>
<ellipse cx="440.46" cy="337.18" rx="3.0" ry="2.4"/>
<ellipse cx="459.63" cy="342.35" rx="3.0" ry="2.4"/>
<ellipse cx="462.98" cy="354.07" rx="3.0" ry="2.4"/>
<ellipse cx="482.67" cy="359.44" rx="3.0" ry="2.4"/>
<ellipse cx="486.42" cy="371.65" rx="3.0" ry="2.4"/>
<ellipse cx="506.66" cy="377.24" rx="3.0" ry="2.4"/>
<ellipse cx="510.84" cy="389.96" rx="3.0" ry="2.4"/>
<ellipse cx="531.65" cy="395.78" rx="3.0" ry="2.4"/>
<ellipse cx="536.29" cy="409.05" rx="3.0" ry="2.4"/>
<ellipse cx="557.7" cy="415.11" rx="3.0" ry="2.4"/>
<ellipse cx="562.84" cy="428.96" rx="3.0" ry="2.4"/>
<ellipse cx="584.89" cy="435.28" rx="3.0" ry="2.4"/>
<ellipse cx="370.72" cy="251.49" rx="3.0" ry="2.4"/>
<ellipse cx="372.6" cy="260.8" rx="3.0" ry="2.4"/>
<ellipse cx="389.66" cy="265.09" rx="3.0" ry="2.4"/>
<ellipse cx="391.81" cy="274.75" rx="3.0" ry="2.4"/>
<ellipse cx="409.29" cy="279.19" rx="3.0" ry="2.4"/>
<ellipse cx="411.73" cy="289.21" rx="3.0" ry="2.4"/>
<ellipse cx="429.64" cy="293.82" rx="3.0" ry="2.4"/>
<ellipse cx="432.4" cy="304.22" rx="3.0" ry="2.4"/>
<ellipse cx="450.76" cy="308.99" rx="3.0" ry="2.4"/>
<ellipse cx="453.86" cy="319.79" rx="3.0" ry="2.4"/>
<ellipse cx="472.7" cy="324.75" rx="3.0" ry="2.4"/>
<ellipse cx="476.16" cy="335.98" rx="3.0" ry="2.4"/>
<ellipse cx="495.49" cy="341.13" rx="3.0" ry="2.4"/>
<ellipse cx="499.34" cy="352.81" rx="3.0" ry="2.4"/>
<ellipse cx="519.2" cy="358.16" rx="3.0" ry="2.4"/>
<ellipse cx="523.46" cy="370.32" rx="3.0" ry="2.4"/>
<ellipse cx="543.87" cy="375.89" rx="3.0" ry="2.4"/>
<ellipse cx="548.59" cy="388.56" rx="3.0" ry="2.4"/>
<ellipse cx="569.58" cy="394.35" rx="3.0" ry="2.4"/>
<ellipse cx="574.77" cy="407.57" rx="3.0" ry="2.4"/>
<ellipse cx="402.92" cy="250.58" rx="3.0" ry="2.4"/>
<ellipse cx="405.2" cy="259.87" rx="3.0" ry="2.4"/>
<ellipse cx="422.4" cy="264.14" rx="3.0" ry="2.4"/>
<ellipse cx="424.96" cy="273.77" rx="3.0" ry="2.4"/>
<ellipse cx="442.58" cy="278.2" rx="3.0" ry="2.4"/>
<ellipse cx="445.45" cy="288.18" rx="3.0" ry="2.4"/>
<ellipse cx="463.5" cy="292.77" rx="3.0" ry="2.4"/>
<ellipse cx="466.7" cy="303.13" rx="3.0" ry="2.4"/>
<ellipse cx="485.21" cy="307.89" rx="3.0" ry="2.4"/>
<ellipse cx="488.77" cy="318.66" rx="3.0" ry="2.4"/>
<ellipse cx="507.76" cy="323.59" rx="3.0" ry="2.4"/>
<ellipse cx="511.69" cy="334.78" rx="3.0" ry="2.4"/>
<ellipse cx="531.19" cy="339.91" rx="3.0" ry="2.4"/>
<ellipse cx="535.53" cy="351.55" rx="3.0" ry="2.4"/>
<ellipse cx="555.56" cy="356.88" rx="3.0" ry="2.4"/>
<ellipse cx="560.33" cy="369" rx="3.0" ry="2.4"/>
<ellipse cx="580.91" cy="374.54" rx="3.0" ry="2.4"/>
<ellipse cx="437.66" cy="258.94" rx="3.0" ry="2.4"/>
<ellipse cx="455" cy="263.2" rx="3.0" ry="2.4"/>
<ellipse cx="457.97" cy="272.79" rx="3.0" ry="2.4"/>
<ellipse cx="475.73" cy="277.21" rx="3.0" ry="2.4"/>
<ellipse cx="479.02" cy="287.16" rx="3.0" ry="2.4"/>
<ellipse cx="497.22" cy="291.73" rx="3.0" ry="2.4"/>
<ellipse cx="500.85" cy="302.06" rx="3.0" ry="2.4"/>
<ellipse cx="519.52" cy="306.8" rx="3.0" ry="2.4"/>
<ellipse cx="523.52" cy="317.52" rx="3.0" ry="2.4"/>
<ellipse cx="542.67" cy="322.44" rx="3.0" ry="2.4"/>
<ellipse cx="547.07" cy="333.59" rx="3.0" ry="2.4"/>
<ellipse cx="566.73" cy="338.7" rx="3.0" ry="2.4"/>
<ellipse cx="571.55" cy="350.3" rx="3.0" ry="2.4"/>
<ellipse cx="470" cy="258.01" rx="3.0" ry="2.4"/>
<ellipse cx="487.46" cy="262.26" rx="3.0" ry="2.4"/>
<ellipse cx="490.84" cy="271.82" rx="3.0" ry="2.4"/>
<ellipse cx="508.74" cy="276.22" rx="3.0" ry="2.4"/>
<ellipse cx="512.45" cy="286.13" rx="3.0" ry="2.4"/>
<ellipse cx="530.79" cy="290.69" rx="3.0" ry="2.4"/>
<ellipse cx="534.86" cy="300.98" rx="3.0" ry="2.4"/>
<ellipse cx="553.67" cy="305.71" rx="3.0" ry="2.4"/>
<ellipse cx="558.12" cy="316.4" rx="3.0" ry="2.4"/>
<ellipse cx="577.43" cy="321.3" rx="3.0" ry="2.4"/>
<ellipse cx="582.29" cy="332.41" rx="3.0" ry="2.4"/>
<ellipse cx="502.2" cy="257.08" rx="3.0" ry="2.4"/>
<ellipse cx="519.8" cy="261.32" rx="3.0" ry="2.4"/>
<ellipse cx="523.58" cy="270.85" rx="3.0" ry="2.4"/>
<ellipse cx="541.61" cy="275.23" rx="3.0" ry="2.4"/>
<ellipse cx="545.73" cy="285.12" rx="3.0" ry="2.4"/>
<ellipse cx="564.22" cy="289.66" rx="3.0" ry="2.4"/>
<ellipse cx="568.72" cy="299.91" rx="3.0" ry="2.4"/>
<ellipse cx="534.27" cy="256.16" rx="3.0" ry="2.4"/>
<ellipse cx="552" cy="260.38" rx="3.0" ry="2.4"/>
<ellipse cx="556.18" cy="269.88" rx="3.0" ry="2.4"/>
<ellipse cx="574.34" cy="274.25" rx="3.0" ry="2.4"/>
<ellipse cx="578.88" cy="284.1" rx="3.0" ry="2.4"/>
</g></g>
<path d="M325.6 193 L325.6 340 Q325.8 349 335.4 350.8 L375 356 Q395 358.6 415 356.2 L451 344.6 Q458.1 342 458.1 335 L458.1 193 Z" fill="url(#beamG)"/>
<g clip-path="url(#clipBeamUp)"><polygon points="258.2,333.6 400.9,284.8 510,360.2 357.6,423.4" fill="#641e1e" fill-opacity="0.2"/></g>
<path d="M457.6 193 L457.6 336" stroke="#fff" stroke-opacity="0.28" stroke-width="1.2" fill="none"/>
<path d="M326.2 193 L326.2 340" stroke="#fff" stroke-opacity="0.22" stroke-width="1.2" fill="none"/>
<path d="M327 342 Q327.6 349.6 336 351.2 L375 356.4 Q395 359 415 356.6 L451 345 Q458 342.6 458 336" fill="none" stroke="#e04040" stroke-opacity="0.35" stroke-width="1.3"/>
<g id="laser">
<path d="M318.9 192.4 L397 187.8 Q417 187.2 437 188.2 L468 193 Q430 196.6 395 197.6 Q355 196.8 318.9 192.4Z" fill="url(#redG)"/>
<path d="M316 37 Q316 31.8 322 30.6 L398 19.6 Q410 18 424 19.6 Q436 21.2 444 24.6 L466 33.4 Q470 35.2 470 40 L470 185 Q470 188.4 466 187.7 L437 183.4 Q417 182 397 183.2 L321 188.5 Q316 188.9 316 184.6Z" fill="url(#laserG)"/>
<path d="M316 176 L470 176 L470 185 Q470 188.4 466 187.7 L437 183.4 Q417 182 397 183.2 L321 188.5 Q316 188.9 316 184.6Z" fill="url(#laserBot)"/>
<g clip-path="url(#clipLaser)"><path d="M316 38 Q316 31.8 322 30.6 L398 19.6 Q410 18 424 19.6 Q436 21.2 444 24.6 L466 33.4 Q470 35.2 470 41" fill="none" stroke="#000" stroke-opacity="0.22" stroke-width="3" filter="url(#blur1)"/></g>
</g>
<g id="xsection">
<rect x="3.8" y="526.6" width="231.1" height="34.5" fill="#e7e6e6"/>
<rect x="30.8" y="509.7" width="175.8" height="16.9" fill="#afabab"/>
<rect x="93.5" y="509.7" width="50.7" height="7.2" fill="#fff"/>
<rect x="93.5" y="516.9" width="50.7" height="9.7" fill="#595959"/>
<rect x="57.2" y="491.1" width="118.6" height="8.8" fill="url(#coverG)"/>
<rect x="60" y="499.7" width="113.8" height="8.2" fill="#00b050"/>
<rect x="60" y="507.6" width="113.8" height="2.1" fill="#111"/>
</g>
<line x1="727.7" y1="90.5" x2="480.03" y2="150.54" stroke="#111" stroke-width="1.7"/>
<path d="M474 152 L482.87 146.15 L480.03 150.54 L484.57 153.14Z" fill="#111"/>
<line x1="725.2" y1="233.6" x2="490.12" y2="307.05" stroke="#111" stroke-width="1.7"/>
<path d="M484.2 308.9 L492.67 302.48 L490.12 307.05 L494.82 309.35Z" fill="#111"/>
<line x1="727.7" y1="281.9" x2="482.2" y2="361.88" stroke="#111" stroke-width="1.7"/>
<path d="M476.3 363.8 L484.69 357.28 L482.2 361.88 L486.92 364.13Z" fill="#111"/>
<line x1="727.7" y1="320.5" x2="625.25" y2="350.36" stroke="#111" stroke-width="1.7"/>
<path d="M619.3 352.1 L627.89 345.85 L625.25 350.36 L629.91 352.76Z" fill="#111"/>
<line x1="727.7" y1="368.5" x2="702.43" y2="376.19" stroke="#111" stroke-width="1.7"/>
<path d="M696.5 378 L705.02 371.64 L702.43 376.19 L707.11 378.53Z" fill="#111"/>
<line x1="726.1" y1="557.4" x2="533.29" y2="621.06" stroke="#111" stroke-width="1.7"/>
<path d="M527.4 623 L535.77 616.45 L533.29 621.06 L538.02 623.28Z" fill="#111"/>
<text font-size="24.9" font-weight="normal" font-style="normal"><tspan x="736.94" y="100.6" textLength="59.01" lengthAdjust="spacingAndGlyphs">Laser</tspan></text>
<text font-size="24.9" font-weight="normal" font-style="normal"><tspan x="734.93" y="245" textLength="38.7" lengthAdjust="spacingAndGlyphs">AlO</tspan><tspan x="774.74" y="251.2" textLength="7.33" lengthAdjust="spacingAndGlyphs" font-size="17.5" font-style="italic">x</tspan><tspan x="784.45" y="245" textLength="26.81" lengthAdjust="spacingAndGlyphs">/G</tspan> <tspan x="817.9" y="245" textLength="76.7" lengthAdjust="spacingAndGlyphs">barrier</tspan></text>
<text font-size="24.9" font-weight="normal" font-style="normal"><tspan x="736.81" y="292.3" textLength="25.15" lengthAdjust="spacingAndGlyphs">Ca</tspan> <tspan x="772.22" y="292.3" textLength="42.9" lengthAdjust="spacingAndGlyphs">film</tspan></text>
<text font-size="24.9" font-weight="normal" font-style="normal"><tspan x="737.46" y="334.5" textLength="40.99" lengthAdjust="spacingAndGlyphs">PSA</tspan> <tspan x="787.32" y="334.5" textLength="42.9" lengthAdjust="spacingAndGlyphs">film</tspan></text>
<text font-size="24.9" font-weight="normal" font-style="normal"><tspan x="736.69" y="380.6" textLength="57.88" lengthAdjust="spacingAndGlyphs">Glass</tspan> <tspan x="802.49" y="380.6" textLength="103.71" lengthAdjust="spacingAndGlyphs">substrate</tspan></text>
<text font-size="24.9" font-weight="normal" font-style="normal"><tspan x="735.25" y="568.9" textLength="163.49" lengthAdjust="spacingAndGlyphs">Photodetector</tspan></text>
</g>
<g id="panel-b">
<text x="940.47" y="36.6" font-size="45.5" font-weight="bold" font-style="normal" textLength="25.55" lengthAdjust="spacingAndGlyphs" >b</text>
<rect x="1058.2" y="159.6" width="683.1" height="194" fill="url(#gGreen)"/>
<rect x="1058.2" y="353.6" width="683.1" height="61" fill="url(#gYellow)"/>
<rect x="1058.2" y="414.6" width="683.1" height="121.9" fill="url(#gGrey)"/>
<rect x="1058.2" y="536.5" width="683.1" height="59" fill="url(#gBlue)"/>
<line x1="1060.4" y1="536.6" x2="1736.9" y2="536.6" stroke="#000" stroke-width="5" stroke-dasharray="14.5 4.58"/>
<g stroke="#000" stroke-width="2" fill="none">
<line x1="1057.3" y1="51.2" x2="1057.3" y2="607"/>
<line x1="1046" y1="595.5" x2="1741" y2="595.5"/>
<line x1="1046" y1="52.2" x2="1057.3" y2="52.2"/>
<line x1="1051.5" y1="94.4" x2="1057.3" y2="94.4" stroke-width="1.8"/>
<line x1="1051.5" y1="83.77" x2="1057.3" y2="83.77" stroke-width="1.8"/>
<line x1="1051.5" y1="76.22" x2="1057.3" y2="76.22" stroke-width="1.8"/>
<line x1="1051.5" y1="70.37" x2="1057.3" y2="70.37" stroke-width="1.8"/>
<line x1="1051.5" y1="65.59" x2="1057.3" y2="65.59" stroke-width="1.8"/>
<line x1="1051.5" y1="61.55" x2="1057.3" y2="61.55" stroke-width="1.8"/>
<line x1="1051.5" y1="58.05" x2="1057.3" y2="58.05" stroke-width="1.8"/>
<line x1="1051.5" y1="54.96" x2="1057.3" y2="54.96" stroke-width="1.8"/>
<line x1="1046" y1="112.57" x2="1057.3" y2="112.57"/>
<line x1="1051.5" y1="154.77" x2="1057.3" y2="154.77" stroke-width="1.8"/>
<line x1="1051.5" y1="144.14" x2="1057.3" y2="144.14" stroke-width="1.8"/>
<line x1="1051.5" y1="136.59" x2="1057.3" y2="136.59" stroke-width="1.8"/>
<line x1="1051.5" y1="130.74" x2="1057.3" y2="130.74" stroke-width="1.8"/>
<line x1="1051.5" y1="125.96" x2="1057.3" y2="125.96" stroke-width="1.8"/>
<line x1="1051.5" y1="121.92" x2="1057.3" y2="121.92" stroke-width="1.8"/>
<line x1="1051.5" y1="118.42" x2="1057.3" y2="118.42" stroke-width="1.8"/>
<line x1="1051.5" y1="115.33" x2="1057.3" y2="115.33" stroke-width="1.8"/>
<line x1="1046" y1="172.94" x2="1057.3" y2="172.94"/>
<line x1="1051.5" y1="215.14" x2="1057.3" y2="215.14" stroke-width="1.8"/>
<line x1="1051.5" y1="204.51" x2="1057.3" y2="204.51" stroke-width="1.8"/>
<line x1="1051.5" y1="196.96" x2="1057.3" y2="196.96" stroke-width="1.8"/>
<line x1="1051.5" y1="191.11" x2="1057.3" y2="191.11" stroke-width="1.8"/>
<line x1="1051.5" y1="186.33" x2="1057.3" y2="186.33" stroke-width="1.8"/>
<line x1="1051.5" y1="182.29" x2="1057.3" y2="182.29" stroke-width="1.8"/>
<line x1="1051.5" y1="178.79" x2="1057.3" y2="178.79" stroke-width="1.8"/>
<line x1="1051.5" y1="175.7" x2="1057.3" y2="175.7" stroke-width="1.8"/>
<line x1="1046" y1="233.31" x2="1057.3" y2="233.31"/>
<line x1="1051.5" y1="275.51" x2="1057.3" y2="275.51" stroke-width="1.8"/>
<line x1="1051.5" y1="264.88" x2="1057.3" y2="264.88" stroke-width="1.8"/>
<line x1="1051.5" y1="257.33" x2="1057.3" y2="257.33" stroke-width="1.8"/>
<line x1="1051.5" y1="251.48" x2="1057.3" y2="251.48" stroke-width="1.8"/>
<line x1="1051.5" y1="246.7" x2="1057.3" y2="246.7" stroke-width="1.8"/>
<line x1="1051.5" y1="242.66" x2="1057.3" y2="242.66" stroke-width="1.8"/>
<line x1="1051.5" y1="239.16" x2="1057.3" y2="239.16" stroke-width="1.8"/>
<line x1="1051.5" y1="236.07" x2="1057.3" y2="236.07" stroke-width="1.8"/>
<line x1="1046" y1="293.68" x2="1057.3" y2="293.68"/>
<line x1="1051.5" y1="335.88" x2="1057.3" y2="335.88" stroke-width="1.8"/>
<line x1="1051.5" y1="325.25" x2="1057.3" y2="325.25" stroke-width="1.8"/>
<line x1="1051.5" y1="317.7" x2="1057.3" y2="317.7" stroke-width="1.8"/>
<line x1="1051.5" y1="311.85" x2="1057.3" y2="311.85" stroke-width="1.8"/>
<line x1="1051.5" y1="307.07" x2="1057.3" y2="307.07" stroke-width="1.8"/>
<line x1="1051.5" y1="303.03" x2="1057.3" y2="303.03" stroke-width="1.8"/>
<line x1="1051.5" y1="299.53" x2="1057.3" y2="299.53" stroke-width="1.8"/>
<line x1="1051.5" y1="296.44" x2="1057.3" y2="296.44" stroke-width="1.8"/>
<line x1="1046" y1="354.05" x2="1057.3" y2="354.05"/>
<line x1="1051.5" y1="396.25" x2="1057.3" y2="396.25" stroke-width="1.8"/>
<line x1="1051.5" y1="385.62" x2="1057.3" y2="385.62" stroke-width="1.8"/>
<line x1="1051.5" y1="378.07" x2="1057.3" y2="378.07" stroke-width="1.8"/>
<line x1="1051.5" y1="372.22" x2="1057.3" y2="372.22" stroke-width="1.8"/>
<line x1="1051.5" y1="367.44" x2="1057.3" y2="367.44" stroke-width="1.8"/>
<line x1="1051.5" y1="363.4" x2="1057.3" y2="363.4" stroke-width="1.8"/>
<line x1="1051.5" y1="359.9" x2="1057.3" y2="359.9" stroke-width="1.8"/>
<line x1="1051.5" y1="356.81" x2="1057.3" y2="356.81" stroke-width="1.8"/>
<line x1="1046" y1="414.42" x2="1057.3" y2="414.42"/>
<line x1="1051.5" y1="456.62" x2="1057.3" y2="456.62" stroke-width="1.8"/>
<line x1="1051.5" y1="445.99" x2="1057.3" y2="445.99" stroke-width="1.8"/>
<line x1="1051.5" y1="438.44" x2="1057.3" y2="438.44" stroke-width="1.8"/>
<line x1="1051.5" y1="432.59" x2="1057.3" y2="432.59" stroke-width="1.8"/>
<line x1="1051.5" y1="427.81" x2="1057.3" y2="427.81" stroke-width="1.8"/>
<line x1="1051.5" y1="423.77" x2="1057.3" y2="423.77" stroke-width="1.8"/>
<line x1="1051.5" y1="420.27" x2="1057.3" y2="420.27" stroke-width="1.8"/>
<line x1="1051.5" y1="417.18" x2="1057.3" y2="417.18" stroke-width="1.8"/>
<line x1="1046" y1="474.79" x2="1057.3" y2="474.79"/>
<line x1="1051.5" y1="516.99" x2="1057.3" y2="516.99" stroke-width="1.8"/>
<line x1="1051.5" y1="506.36" x2="1057.3" y2="506.36" stroke-width="1.8"/>
<line x1="1051.5" y1="498.81" x2="1057.3" y2="498.81" stroke-width="1.8"/>
<line x1="1051.5" y1="492.96" x2="1057.3" y2="492.96" stroke-width="1.8"/>
<line x1="1051.5" y1="488.18" x2="1057.3" y2="488.18" stroke-width="1.8"/>
<line x1="1051.5" y1="484.14" x2="1057.3" y2="484.14" stroke-width="1.8"/>
<line x1="1051.5" y1="480.64" x2="1057.3" y2="480.64" stroke-width="1.8"/>
<line x1="1051.5" y1="477.55" x2="1057.3" y2="477.55" stroke-width="1.8"/>
<line x1="1046" y1="535.16" x2="1057.3" y2="535.16"/>
<line x1="1051.5" y1="577.36" x2="1057.3" y2="577.36" stroke-width="1.8"/>
<line x1="1051.5" y1="566.73" x2="1057.3" y2="566.73" stroke-width="1.8"/>
<line x1="1051.5" y1="559.18" x2="1057.3" y2="559.18" stroke-width="1.8"/>
<line x1="1051.5" y1="553.33" x2="1057.3" y2="553.33" stroke-width="1.8"/>
<line x1="1051.5" y1="548.55" x2="1057.3" y2="548.55" stroke-width="1.8"/>
<line x1="1051.5" y1="544.51" x2="1057.3" y2="544.51" stroke-width="1.8"/>
<line x1="1051.5" y1="541.01" x2="1057.3" y2="541.01" stroke-width="1.8"/>
<line x1="1051.5" y1="537.92" x2="1057.3" y2="537.92" stroke-width="1.8"/>
<line x1="1086.67" y1="595.5" x2="1086.67" y2="602" stroke-width="1.8"/>
<line x1="1103.84" y1="595.5" x2="1103.84" y2="602" stroke-width="1.8"/>
<line x1="1116.03" y1="595.5" x2="1116.03" y2="602" stroke-width="1.8"/>
<line x1="1125.48" y1="595.5" x2="1125.48" y2="602" stroke-width="1.8"/>
<line x1="1133.21" y1="595.5" x2="1133.21" y2="602" stroke-width="1.8"/>
<line x1="1139.74" y1="595.5" x2="1139.74" y2="602" stroke-width="1.8"/>
<line x1="1145.4" y1="595.5" x2="1145.4" y2="602" stroke-width="1.8"/>
<line x1="1150.39" y1="595.5" x2="1150.39" y2="602" stroke-width="1.8"/>
<line x1="1154.85" y1="595.5" x2="1154.85" y2="607"/>
<line x1="1184.22" y1="595.5" x2="1184.22" y2="602" stroke-width="1.8"/>
<line x1="1201.39" y1="595.5" x2="1201.39" y2="602" stroke-width="1.8"/>
<line x1="1213.58" y1="595.5" x2="1213.58" y2="602" stroke-width="1.8"/>
<line x1="1223.03" y1="595.5" x2="1223.03" y2="602" stroke-width="1.8"/>
<line x1="1230.76" y1="595.5" x2="1230.76" y2="602" stroke-width="1.8"/>
<line x1="1237.29" y1="595.5" x2="1237.29" y2="602" stroke-width="1.8"/>
<line x1="1242.95" y1="595.5" x2="1242.95" y2="602" stroke-width="1.8"/>
<line x1="1247.94" y1="595.5" x2="1247.94" y2="602" stroke-width="1.8"/>
<line x1="1252.4" y1="595.5" x2="1252.4" y2="607"/>
<line x1="1281.77" y1="595.5" x2="1281.77" y2="602" stroke-width="1.8"/>
<line x1="1298.94" y1="595.5" x2="1298.94" y2="602" stroke-width="1.8"/>
<line x1="1311.13" y1="595.5" x2="1311.13" y2="602" stroke-width="1.8"/>
<line x1="1320.58" y1="595.5" x2="1320.58" y2="602" stroke-width="1.8"/>
<line x1="1328.31" y1="595.5" x2="1328.31" y2="602" stroke-width="1.8"/>
<line x1="1334.84" y1="595.5" x2="1334.84" y2="602" stroke-width="1.8"/>
<line x1="1340.5" y1="595.5" x2="1340.5" y2="602" stroke-width="1.8"/>
<line x1="1345.49" y1="595.5" x2="1345.49" y2="602" stroke-width="1.8"/>
<line x1="1349.95" y1="595.5" x2="1349.95" y2="607"/>
<line x1="1379.32" y1="595.5" x2="1379.32" y2="602" stroke-width="1.8"/>
<line x1="1396.49" y1="595.5" x2="1396.49" y2="602" stroke-width="1.8"/>
<line x1="1408.68" y1="595.5" x2="1408.68" y2="602" stroke-width="1.8"/>
<line x1="1418.13" y1="595.5" x2="1418.13" y2="602" stroke-width="1.8"/>
<line x1="1425.86" y1="595.5" x2="1425.86" y2="602" stroke-width="1.8"/>
<line x1="1432.39" y1="595.5" x2="1432.39" y2="602" stroke-width="1.8"/>
<line x1="1438.05" y1="595.5" x2="1438.05" y2="602" stroke-width="1.8"/>
<line x1="1443.04" y1="595.5" x2="1443.04" y2="602" stroke-width="1.8"/>
<line x1="1447.5" y1="595.5" x2="1447.5" y2="607"/>
<line x1="1476.87" y1="595.5" x2="1476.87" y2="602" stroke-width="1.8"/>
<line x1="1494.04" y1="595.5" x2="1494.04" y2="602" stroke-width="1.8"/>
<line x1="1506.23" y1="595.5" x2="1506.23" y2="602" stroke-width="1.8"/>
<line x1="1515.68" y1="595.5" x2="1515.68" y2="602" stroke-width="1.8"/>
<line x1="1523.41" y1="595.5" x2="1523.41" y2="602" stroke-width="1.8"/>
<line x1="1529.94" y1="595.5" x2="1529.94" y2="602" stroke-width="1.8"/>
<line x1="1535.6" y1="595.5" x2="1535.6" y2="602" stroke-width="1.8"/>
<line x1="1540.59" y1="595.5" x2="1540.59" y2="602" stroke-width="1.8"/>
<line x1="1545.05" y1="595.5" x2="1545.05" y2="607"/>
<line x1="1574.42" y1="595.5" x2="1574.42" y2="602" stroke-width="1.8"/>
<line x1="1591.59" y1="595.5" x2="1591.59" y2="602" stroke-width="1.8"/>
<line x1="1603.78" y1="595.5" x2="1603.78" y2="602" stroke-width="1.8"/>
<line x1="1613.23" y1="595.5" x2="1613.23" y2="602" stroke-width="1.8"/>
<line x1="1620.96" y1="595.5" x2="1620.96" y2="602" stroke-width="1.8"/>
<line x1="1627.49" y1="595.5" x2="1627.49" y2="602" stroke-width="1.8"/>
<line x1="1633.15" y1="595.5" x2="1633.15" y2="602" stroke-width="1.8"/>
<line x1="1638.14" y1="595.5" x2="1638.14" y2="602" stroke-width="1.8"/>
<line x1="1642.6" y1="595.5" x2="1642.6" y2="607"/>
<line x1="1671.97" y1="595.5" x2="1671.97" y2="602" stroke-width="1.8"/>
<line x1="1689.14" y1="595.5" x2="1689.14" y2="602" stroke-width="1.8"/>
<line x1="1701.33" y1="595.5" x2="1701.33" y2="602" stroke-width="1.8"/>
<line x1="1710.78" y1="595.5" x2="1710.78" y2="602" stroke-width="1.8"/>
<line x1="1718.51" y1="595.5" x2="1718.51" y2="602" stroke-width="1.8"/>
<line x1="1725.04" y1="595.5" x2="1725.04" y2="602" stroke-width="1.8"/>
<line x1="1730.7" y1="595.5" x2="1730.7" y2="602" stroke-width="1.8"/>
<line x1="1735.69" y1="595.5" x2="1735.69" y2="602" stroke-width="1.8"/>
<line x1="1740.15" y1="595.5" x2="1740.15" y2="607"/>
</g>
<text font-size="25.6"><tspan x="1002.95" y="60.4" textLength="27.2" lengthAdjust="spacingAndGlyphs">10</tspan><tspan x="1031.15" y="46.7" font-size="16.8" textLength="7.85" lengthAdjust="spacingAndGlyphs">3</tspan></text>
<text font-size="25.6"><tspan x="1002.95" y="120.77" textLength="27.2" lengthAdjust="spacingAndGlyphs">10</tspan><tspan x="1031.15" y="107.07" font-size="16.8" textLength="7.85" lengthAdjust="spacingAndGlyphs">2</tspan></text>
<text font-size="25.6"><tspan x="1002.95" y="181.14" textLength="27.2" lengthAdjust="spacingAndGlyphs">10</tspan><tspan x="1031.15" y="167.44" font-size="16.8" textLength="7.85" lengthAdjust="spacingAndGlyphs">1</tspan></text>
<text font-size="25.6"><tspan x="1002.95" y="241.51" textLength="27.2" lengthAdjust="spacingAndGlyphs">10</tspan><tspan x="1031.15" y="227.81" font-size="16.8" textLength="7.85" lengthAdjust="spacingAndGlyphs">0</tspan></text>
<text font-size="25.6"><tspan x="998.25" y="301.88" textLength="27.2" lengthAdjust="spacingAndGlyphs">10</tspan><tspan x="1026.45" y="288.18" font-size="16.8" textLength="12.55" lengthAdjust="spacingAndGlyphs">-1</tspan></text>
<text font-size="25.6"><tspan x="998.25" y="362.25" textLength="27.2" lengthAdjust="spacingAndGlyphs">10</tspan><tspan x="1026.45" y="348.55" font-size="16.8" textLength="12.55" lengthAdjust="spacingAndGlyphs">-2</tspan></text>
<text font-size="25.6"><tspan x="998.25" y="422.62" textLength="27.2" lengthAdjust="spacingAndGlyphs">10</tspan><tspan x="1026.45" y="408.92" font-size="16.8" textLength="12.55" lengthAdjust="spacingAndGlyphs">-3</tspan></text>
<text font-size="25.6"><tspan x="998.25" y="482.99" textLength="27.2" lengthAdjust="spacingAndGlyphs">10</tspan><tspan x="1026.45" y="469.29" font-size="16.8" textLength="12.55" lengthAdjust="spacingAndGlyphs">-4</tspan></text>
<text font-size="25.6"><tspan x="998.25" y="543.36" textLength="27.2" lengthAdjust="spacingAndGlyphs">10</tspan><tspan x="1026.45" y="529.66" font-size="16.8" textLength="12.55" lengthAdjust="spacingAndGlyphs">-5</tspan></text>
<text font-size="25.6"><tspan x="998.25" y="603.73" textLength="27.2" lengthAdjust="spacingAndGlyphs">10</tspan><tspan x="1026.45" y="590.03" font-size="16.8" textLength="12.55" lengthAdjust="spacingAndGlyphs">-6</tspan></text>
<text font-size="25.6"><tspan x="1037.53" y="637.6" textLength="27.2" lengthAdjust="spacingAndGlyphs">10</tspan><tspan x="1065.73" y="623.9" font-size="16.8" textLength="12.55" lengthAdjust="spacingAndGlyphs">-1</tspan></text>
<text font-size="25.6"><tspan x="1137.43" y="637.6" textLength="27.2" lengthAdjust="spacingAndGlyphs">10</tspan><tspan x="1165.63" y="623.9" font-size="16.8" textLength="7.85" lengthAdjust="spacingAndGlyphs">0</tspan></text>
<text font-size="25.6"><tspan x="1234.98" y="637.6" textLength="27.2" lengthAdjust="spacingAndGlyphs">10</tspan><tspan x="1263.18" y="623.9" font-size="16.8" textLength="7.85" lengthAdjust="spacingAndGlyphs">1</tspan></text>
<text font-size="25.6"><tspan x="1332.53" y="637.6" textLength="27.2" lengthAdjust="spacingAndGlyphs">10</tspan><tspan x="1360.73" y="623.9" font-size="16.8" textLength="7.85" lengthAdjust="spacingAndGlyphs">2</tspan></text>
<text font-size="25.6"><tspan x="1430.08" y="637.6" textLength="27.2" lengthAdjust="spacingAndGlyphs">10</tspan><tspan x="1458.28" y="623.9" font-size="16.8" textLength="7.85" lengthAdjust="spacingAndGlyphs">3</tspan></text>
<text font-size="25.6"><tspan x="1527.63" y="637.6" textLength="27.2" lengthAdjust="spacingAndGlyphs">10</tspan><tspan x="1555.83" y="623.9" font-size="16.8" textLength="7.85" lengthAdjust="spacingAndGlyphs">4</tspan></text>
<text font-size="25.6"><tspan x="1625.18" y="637.6" textLength="27.2" lengthAdjust="spacingAndGlyphs">10</tspan><tspan x="1653.38" y="623.9" font-size="16.8" textLength="7.85" lengthAdjust="spacingAndGlyphs">5</tspan></text>
<text font-size="25.6"><tspan x="1722.73" y="637.6" textLength="27.2" lengthAdjust="spacingAndGlyphs">10</tspan><tspan x="1750.93" y="623.9" font-size="16.8" textLength="7.85" lengthAdjust="spacingAndGlyphs">6</tspan></text>
<text font-size="28.8" font-weight="normal" font-style="normal"><tspan x="1247.36" y="690.7" textLength="93.68" lengthAdjust="spacingAndGlyphs">Barrier</tspan> <tspan x="1349.84" y="690.7" textLength="126.81" lengthAdjust="spacingAndGlyphs">thickness</tspan> <tspan x="1485.67" y="690.7" textLength="64.16" lengthAdjust="spacingAndGlyphs">(nm)</tspan></text>
<g transform="translate(974.6 442.3) rotate(-90)">
<text font-size="31.3" font-weight="normal" font-style="normal"><tspan x="0.8" y="0" textLength="81.31" lengthAdjust="spacingAndGlyphs">WVTR</tspan> <tspan x="91.71" y="0" textLength="63.88" lengthAdjust="spacingAndGlyphs">(g/m</tspan><tspan x="156.25" y="-16.6" textLength="8.83" lengthAdjust="spacingAndGlyphs" font-size="18.3">2</tspan><tspan x="167.35" y="0" textLength="69.99" lengthAdjust="spacingAndGlyphs">/day)</tspan></text>
</g>
<rect x="1185.7" y="39.6" width="400.6" height="110" fill="#e6e6e6"/>
<rect x="1194.5" y="49.4" width="16" height="16" fill="#1170b8"/>
<path d="M1202.4 87.6 L1204.2 93.13 L1210.01 93.13 L1205.31 96.54 L1207.1 102.07 L1202.4 98.66 L1197.7 102.07 L1199.49 96.54 L1194.79 93.13 L1200.6 93.13Z" fill="#fff" stroke="#e3161e" stroke-width="1.55" stroke-linejoin="miter"/>
<path d="M1202.4 122.9 L1204.71 130.02 L1212.2 130.02 L1206.14 134.42 L1208.45 141.53 L1202.4 137.13 L1196.35 141.53 L1198.66 134.42 L1192.6 130.02 L1200.09 130.02Z" fill="#ff0000"/>
<text font-size="24.9" font-weight="normal" font-style="normal"><tspan x="1243.81" y="67" textLength="113.47" lengthAdjust="spacingAndGlyphs">Literature</tspan> <tspan x="1365.32" y="67" textLength="109.68" lengthAdjust="spacingAndGlyphs">graphene</tspan> <tspan x="1483.27" y="67" textLength="78.13" lengthAdjust="spacingAndGlyphs">barrier</tspan></text>
<text font-size="24.9" font-weight="normal" font-style="normal"><tspan x="1244.66" y="104.4" textLength="45.29" lengthAdjust="spacingAndGlyphs">This</tspan> <tspan x="1297.95" y="104.4" textLength="70.91" lengthAdjust="spacingAndGlyphs">study,</tspan> <tspan x="1376.78" y="104.4" textLength="88.16" lengthAdjust="spacingAndGlyphs">without</tspan> <tspan x="1472.92" y="104.4" textLength="110.08" lengthAdjust="spacingAndGlyphs">graphene</tspan></text>
<text font-size="24.9" font-weight="normal" font-style="normal"><tspan x="1244.66" y="141.9" textLength="45.29" lengthAdjust="spacingAndGlyphs">This</tspan> <tspan x="1297.95" y="141.9" textLength="70.91" lengthAdjust="spacingAndGlyphs">study,</tspan> <tspan x="1376.78" y="141.9" textLength="49.21" lengthAdjust="spacingAndGlyphs">with</tspan> <tspan x="1433.32" y="141.9" textLength="109.98" lengthAdjust="spacingAndGlyphs">graphene</tspan></text>
<rect x="1096.1" y="156.4" width="15.8" height="15.8" fill="#1170b8"/>
<text x="1072.47" y="170.5" font-size="19.6" font-weight="normal" font-style="normal" textLength="21.27" lengthAdjust="spacingAndGlyphs" >20</text>
<rect x="1142.8" y="185.1" width="15.8" height="15.8" fill="#1170b8"/>
<text x="1119.47" y="199.2" font-size="19.6" font-weight="normal" font-style="normal" textLength="21.27" lengthAdjust="spacingAndGlyphs" >20</text>
<rect x="1096.1" y="194.1" width="15.8" height="15.8" fill="#1170b8"/>
<text x="1072.57" y="208.2" font-size="19.6" font-weight="normal" font-style="normal" textLength="21.41" lengthAdjust="spacingAndGlyphs" >19</text>
<rect x="1096.1" y="236.1" width="15.8" height="15.8" fill="#1170b8"/>
<text x="1072.56" y="250.2" font-size="19.6" font-weight="normal" font-style="normal" textLength="21.42" lengthAdjust="spacingAndGlyphs" >22</text>
<rect x="1172.4" y="244.5" width="15.8" height="15.8" fill="#1170b8"/>
<text x="1149" y="258.6" font-size="19.6" font-weight="normal" font-style="normal" textLength="20.97" lengthAdjust="spacingAndGlyphs" >19</text>
<rect x="1096.1" y="317.3" width="15.8" height="15.8" fill="#1170b8"/>
<text x="1073.08" y="331.4" font-size="19.6" font-weight="normal" font-style="normal" textLength="20.88" lengthAdjust="spacingAndGlyphs" >21</text>
<rect x="1155.1" y="364.5" width="15.8" height="15.8" fill="#1170b8"/>
<text x="1130.86" y="378.6" font-size="19.6" font-weight="normal" font-style="normal" textLength="21.53" lengthAdjust="spacingAndGlyphs" >21</text>
<rect x="1576.1" y="331" width="15.8" height="15.8" fill="#1170b8"/>
<text x="1550.97" y="345.1" font-size="19.6" font-weight="normal" font-style="normal" textLength="21.31" lengthAdjust="spacingAndGlyphs" >23</text>
<path d="M1104.4 283.8 L1106.69 290.85 L1114.1 290.85 L1108.11 295.2 L1110.4 302.25 L1104.4 297.9 L1098.4 302.25 L1100.69 295.2 L1094.7 290.85 L1102.11 290.85Z" fill="#ff0000"/>
<path d="M1252.7 285.6 L1254.59 291.4 L1260.69 291.4 L1255.75 294.99 L1257.64 300.8 L1252.7 297.21 L1247.76 300.8 L1249.65 294.99 L1244.71 291.4 L1250.81 291.4Z" fill="#fff" stroke="#e0202a" stroke-width="1.2" stroke-linejoin="miter"/>
<text font-size="18.9" font-weight="normal" font-style="normal"><tspan x="1210.81" y="317" textLength="48.74" lengthAdjust="spacingAndGlyphs">10nm</tspan> <tspan x="1266.14" y="317" textLength="39.7" lengthAdjust="spacingAndGlyphs">AlOx</tspan></text>
<circle cx="1253.7" cy="363.1" r="12.8" fill="none" stroke="#f01010" stroke-width="2.2"/>
<path d="M1252.7 353.8 L1254.99 360.85 L1262.4 360.85 L1256.41 365.2 L1258.7 372.25 L1252.7 367.9 L1246.7 372.25 L1248.99 365.2 L1243 360.85 L1250.41 360.85Z" fill="#ff0000"/>
<text font-size="18.9" font-weight="normal" font-style="normal"><tspan x="1234.48" y="394.8" textLength="36.66" lengthAdjust="spacingAndGlyphs">RGA</tspan></text>
<path d="M1311.6 410.2 L1313.49 416 L1319.59 416 L1314.65 419.59 L1316.54 425.4 L1311.6 421.81 L1306.66 425.4 L1308.55 419.59 L1303.61 416 L1309.71 416Z" fill="#fff" stroke="#e0202a" stroke-width="1.2" stroke-linejoin="miter"/>
<path d="M1311.5 405.2 L1313.79 412.25 L1321.2 412.25 L1315.21 416.6 L1317.5 423.65 L1311.5 419.3 L1305.5 423.65 L1307.79 416.6 L1301.8 412.25 L1309.21 412.25Z" fill="#ff0000"/>
<rect x="1308.6" y="415.2" width="26.8" height="23" rx="3" fill="none" stroke="#f01010" stroke-width="1.8" stroke-dasharray="2 1.9"/>
<rect x="1308.6" y="439.6" width="26.8" height="25.4" rx="3" fill="none" stroke="#f01010" stroke-width="1.8" stroke-dasharray="2 1.9"/>
<path d="M1320.5 416.6 L1322.79 423.65 L1330.2 423.65 L1324.21 428 L1326.5 435.05 L1320.5 430.7 L1314.5 435.05 L1316.79 428 L1310.8 423.65 L1318.21 423.65Z" fill="#ff0000"/>
<path d="M1320.5 441.2 L1322.79 448.25 L1330.2 448.25 L1324.21 452.6 L1326.5 459.65 L1320.5 455.3 L1314.5 459.65 L1316.79 452.6 L1310.8 448.25 L1318.21 448.25Z" fill="#ff0000"/>
<text font-size="18.9" font-weight="normal" font-style="normal"><tspan x="1256.21" y="485.4" textLength="96.17" lengthAdjust="spacingAndGlyphs">RGA/40nm</tspan> <tspan x="1356.54" y="485.4" textLength="39.4" lengthAdjust="spacingAndGlyphs">AlOx</tspan></text>
<path d="M1652 122.3 L1653.86 128.03 L1659.89 128.04 L1655.02 131.58 L1656.88 137.31 L1652 133.77 L1647.12 137.31 L1648.98 131.58 L1644.11 128.04 L1650.14 128.03Z" fill="#fff" stroke="#e0202a" stroke-width="1.3" stroke-linejoin="miter"/>
<text font-size="18.9" font-weight="normal" font-style="normal"><tspan x="1636.08" y="158.1" textLength="34.83" lengthAdjust="spacingAndGlyphs">PEN</tspan></text>
<path d="M1651.8 424.6 L1653.66 430.33 L1659.69 430.34 L1654.82 433.88 L1656.68 439.61 L1651.8 436.07 L1646.92 439.61 L1648.78 433.88 L1643.91 430.34 L1649.94 430.33Z" fill="none" stroke="#e0202a" stroke-width="1.3" stroke-linejoin="miter"/>
<text font-size="18.9" font-weight="normal" font-style="normal"><tspan x="1604.28" y="457" textLength="100.03" lengthAdjust="spacingAndGlyphs">commercial</tspan></text>
<text font-size="23.2" font-weight="bold" font-style="italic"><tspan x="1540.28" y="265.6" textLength="50.2" lengthAdjust="spacingAndGlyphs">Food</tspan> <tspan x="1598.7" y="265.6" textLength="37.04" lengthAdjust="spacingAndGlyphs">and</tspan> <tspan x="1643.66" y="265.6" textLength="81.73" lengthAdjust="spacingAndGlyphs">medical</tspan></text>
<text font-size="23.2" font-weight="bold" font-style="italic"><tspan x="1426.26" y="393" textLength="81.88" lengthAdjust="spacingAndGlyphs">Medical</tspan> <tspan x="1516.7" y="393" textLength="37.33" lengthAdjust="spacingAndGlyphs">and</tspan> <tspan x="1562.52" y="393" textLength="162.78" lengthAdjust="spacingAndGlyphs">pharmaceutical</tspan></text>
<text font-size="23.2" font-weight="bold" font-style="italic"><tspan x="1447.89" y="484.3" textLength="45.68" lengthAdjust="spacingAndGlyphs">LCD,</tspan> <tspan x="1499.67" y="484.3" textLength="97.34" lengthAdjust="spacingAndGlyphs">inorganic</tspan> <tspan x="1604.57" y="484.3" textLength="32.76" lengthAdjust="spacingAndGlyphs">PV,</tspan> <tspan x="1643.6" y="484.3" textLength="36.74" lengthAdjust="spacingAndGlyphs">and</tspan> <tspan x="1688.5" y="484.3" textLength="36.88" lengthAdjust="spacingAndGlyphs">TFT</tspan></text>
<text font-size="23.2" font-weight="bold" font-style="italic"><tspan x="1573.08" y="575.4" textLength="53.07" lengthAdjust="spacingAndGlyphs">OLED</tspan> <tspan x="1635.4" y="575.4" textLength="38.02" lengthAdjust="spacingAndGlyphs">and</tspan> <tspan x="1681.53" y="575.4" textLength="42.5" lengthAdjust="spacingAndGlyphs">OPV</tspan></text>
</g>
</svg>
</body></html>
